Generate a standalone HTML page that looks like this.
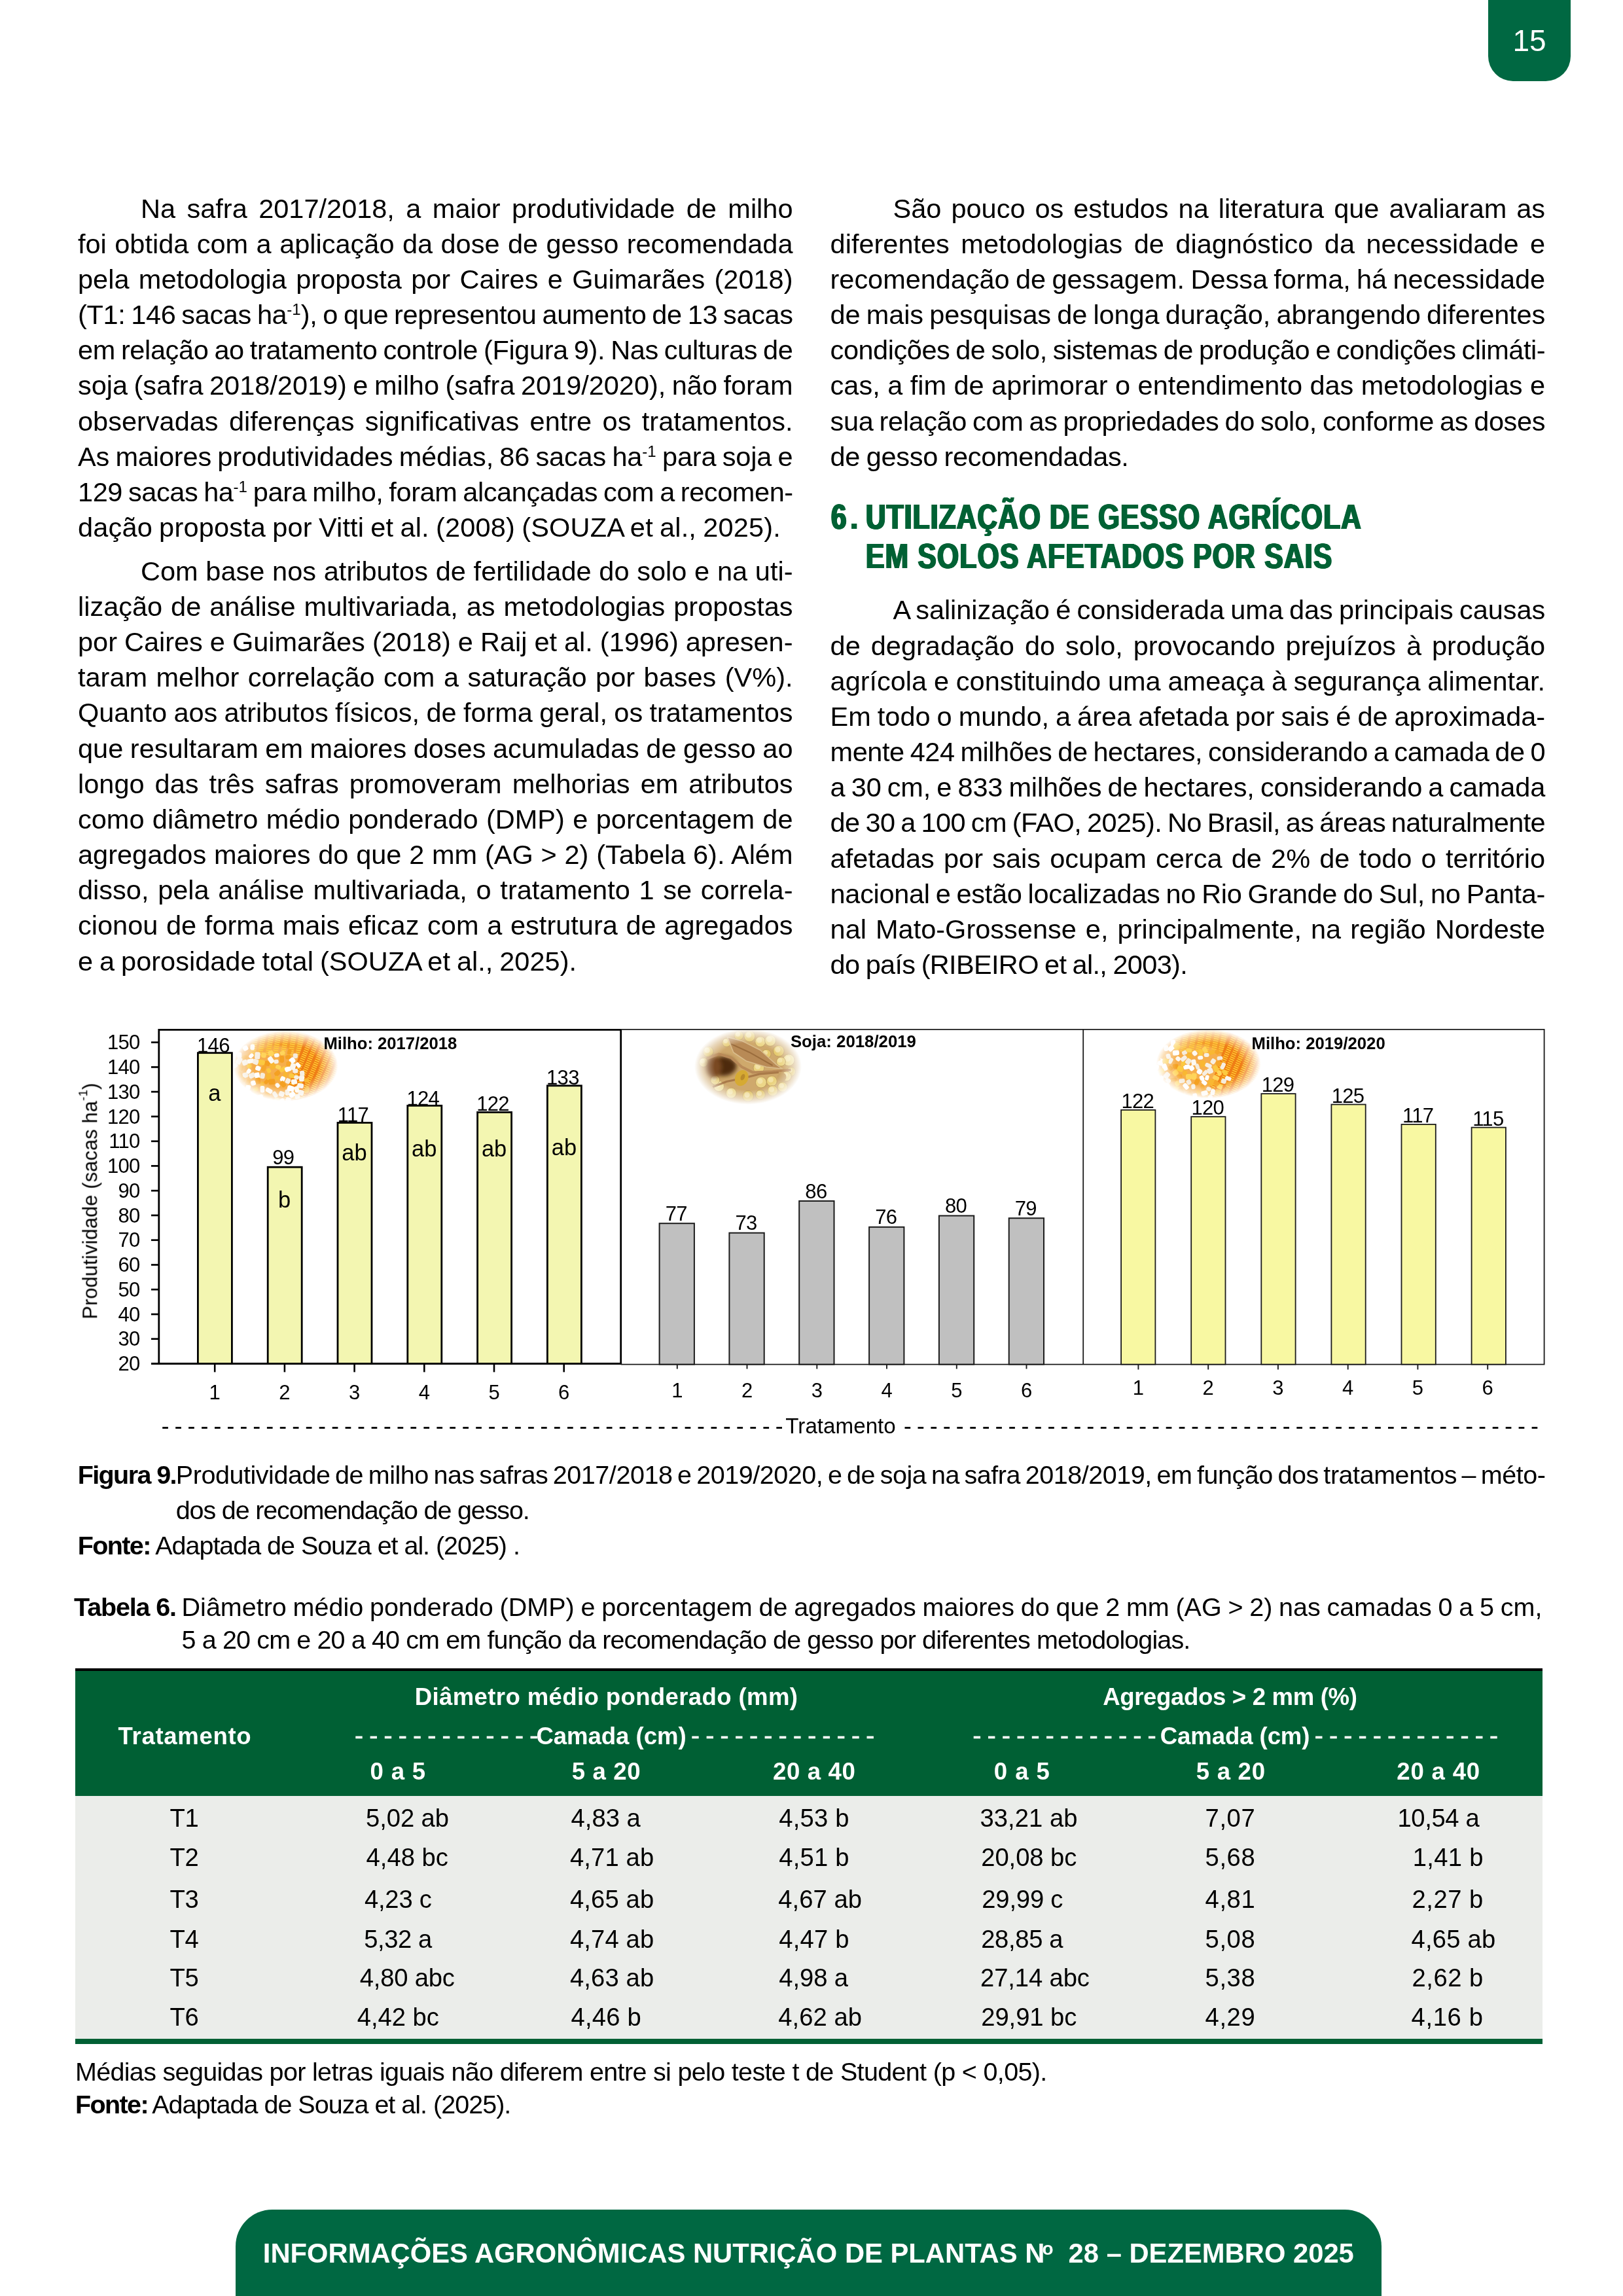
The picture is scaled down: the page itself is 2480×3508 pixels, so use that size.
<!DOCTYPE html>
<html lang="pt-BR"><head><meta charset="utf-8"><title>p15</title>
<style>
html,body{margin:0;padding:0;background:#fff;}
body{width:2480px;height:3508px;position:relative;overflow:hidden;
 font-family:"Liberation Sans",sans-serif;color:#000;}
.ln{position:absolute;white-space:nowrap;margin:0;padding:0;}
.ln.j{text-align:justify;text-align-last:justify;}
.sup{font-size:0.58em;position:relative;top:-0.57em;letter-spacing:0;}
.abs{position:absolute;}
#pg{position:absolute;left:0;top:0;width:2480px;height:3508px;overflow:hidden;will-change:transform;}
</style></head>
<body>
<div id="pg">
<div id="a0" class="ln j b" style="left:215.0px;top:291.64px;font-size:41.5px;line-height:53.95px;width:996.5px;letter-spacing:0px;word-spacing:-2.2px;">Na safra 2017/2018, a maior produtividade de milho</div>
<div id="a1" class="ln j b" style="left:119.0px;top:345.81px;font-size:41.5px;line-height:53.95px;width:1092.5px;letter-spacing:0px;word-spacing:-2.2px;">foi obtida com a aplicação da dose de gesso recomendada</div>
<div id="a2" class="ln j b" style="left:119.0px;top:399.98px;font-size:41.5px;line-height:53.95px;width:1092.5px;letter-spacing:0px;word-spacing:-2.2px;">pela metodologia proposta por Caires e Guimarães (2018)</div>
<div id="a3" class="ln j b" style="left:119.0px;top:454.15px;font-size:41.5px;line-height:53.95px;width:1092.5px;letter-spacing:-0.369px;word-spacing:-2.2px;">(T1: 146 sacas ha<span class="sup">-1</span>), o que representou aumento de 13 sacas</div>
<div id="a4" class="ln j b" style="left:119.0px;top:508.32px;font-size:41.5px;line-height:53.95px;width:1092.5px;letter-spacing:-0.38px;word-spacing:-2.2px;">em relação ao tratamento controle (Figura 9). Nas culturas de</div>
<div id="a5" class="ln j b" style="left:119.0px;top:562.49px;font-size:41.5px;line-height:53.95px;width:1092.5px;letter-spacing:-0.01px;word-spacing:-2.2px;">soja (safra 2018/2019) e milho (safra 2019/2020), não foram</div>
<div id="a6" class="ln j b" style="left:119.0px;top:616.66px;font-size:41.5px;line-height:53.95px;width:1092.5px;letter-spacing:0px;word-spacing:-2.2px;">observadas diferenças significativas entre os tratamentos.</div>
<div id="a7" class="ln j b" style="left:119.0px;top:670.83px;font-size:41.5px;line-height:53.95px;width:1092.5px;letter-spacing:-0.132px;word-spacing:-2.2px;">As maiores produtividades médias, 86 sacas ha<span class="sup">-1</span> para soja e</div>
<div id="a8" class="ln j b" style="left:119.0px;top:725.00px;font-size:41.5px;line-height:53.95px;width:1092.5px;letter-spacing:-0.411px;word-spacing:-2.2px;">129 sacas ha<span class="sup">-1</span> para milho, foram alcançadas com a recomen-</div>
<div id="a9" class="ln b" style="left:119.0px;top:779.17px;font-size:41.5px;line-height:53.95px;letter-spacing:0.186px;word-spacing:-1.6px;">dação proposta por Vitti et al. (2008) (SOUZA et al., 2025).</div>
<div id="b0" class="ln j b" style="left:215.0px;top:845.74px;font-size:41.5px;line-height:53.95px;width:996.5px;letter-spacing:0px;word-spacing:-2.2px;">Com base nos atributos de fertilidade do solo e na uti-</div>
<div id="b1" class="ln j b" style="left:119.0px;top:899.91px;font-size:41.5px;line-height:53.95px;width:1092.5px;letter-spacing:0px;word-spacing:-2.2px;">lização de análise multivariada, as metodologias propostas</div>
<div id="b2" class="ln j b" style="left:119.0px;top:954.08px;font-size:41.5px;line-height:53.95px;width:1092.5px;letter-spacing:-0.01px;word-spacing:-2.2px;">por Caires e Guimarães (2018) e Raij et al. (1996) apresen-</div>
<div id="b3" class="ln j b" style="left:119.0px;top:1008.25px;font-size:41.5px;line-height:53.95px;width:1092.5px;letter-spacing:0px;word-spacing:-2.2px;">taram melhor correlação com a saturação por bases (V%).</div>
<div id="b4" class="ln j b" style="left:119.0px;top:1062.42px;font-size:41.5px;line-height:53.95px;width:1092.5px;letter-spacing:-0.01px;word-spacing:-2.2px;">Quanto aos atributos físicos, de forma geral, os tratamentos</div>
<div id="b5" class="ln j b" style="left:119.0px;top:1116.59px;font-size:41.5px;line-height:53.95px;width:1092.5px;letter-spacing:-0.01px;word-spacing:-2.2px;">que resultaram em maiores doses acumuladas de gesso ao</div>
<div id="b6" class="ln j b" style="left:119.0px;top:1170.76px;font-size:41.5px;line-height:53.95px;width:1092.5px;letter-spacing:0px;word-spacing:-2.2px;">longo das três safras promoveram melhorias em atributos</div>
<div id="b7" class="ln j b" style="left:119.0px;top:1224.93px;font-size:41.5px;line-height:53.95px;width:1092.5px;letter-spacing:0px;word-spacing:-2.2px;">como diâmetro médio ponderado (DMP) e porcentagem de</div>
<div id="b8" class="ln j b" style="left:119.0px;top:1279.10px;font-size:41.5px;line-height:53.95px;width:1092.5px;letter-spacing:0px;word-spacing:-2.2px;">agregados maiores do que 2 mm (AG &gt; 2) (Tabela 6). Além</div>
<div id="b9" class="ln j b" style="left:119.0px;top:1333.27px;font-size:41.5px;line-height:53.95px;width:1092.5px;letter-spacing:0px;word-spacing:-2.2px;">disso, pela análise multivariada, o tratamento 1 se correla-</div>
<div id="b10" class="ln j b" style="left:119.0px;top:1387.44px;font-size:41.5px;line-height:53.95px;width:1092.5px;letter-spacing:0px;word-spacing:-2.2px;">cionou de forma mais eficaz com a estrutura de agregados</div>
<div id="b11" class="ln b" style="left:119.0px;top:1441.61px;font-size:41.5px;line-height:53.95px;letter-spacing:0.01px;word-spacing:-1.6px;">e a porosidade total (SOUZA et al., 2025).</div>
<div id="c0" class="ln j b" style="left:1364.6px;top:291.64px;font-size:41.5px;line-height:53.95px;width:996.5px;letter-spacing:0px;word-spacing:-2.2px;">São pouco os estudos na literatura que avaliaram as</div>
<div id="c1" class="ln j b" style="left:1268.6px;top:345.81px;font-size:41.5px;line-height:53.95px;width:1092.5px;letter-spacing:0px;word-spacing:-2.2px;">diferentes metodologias de diagnóstico da necessidade e</div>
<div id="c2" class="ln j b" style="left:1268.6px;top:399.98px;font-size:41.5px;line-height:53.95px;width:1092.5px;letter-spacing:-0.04px;word-spacing:-2.2px;">recomendação de gessagem. Dessa forma, há necessidade</div>
<div id="c3" class="ln j b" style="left:1268.6px;top:454.15px;font-size:41.5px;line-height:53.95px;width:1092.5px;letter-spacing:-0.124px;word-spacing:-2.2px;">de mais pesquisas de longa duração, abrangendo diferentes</div>
<div id="c4" class="ln j b" style="left:1268.6px;top:508.32px;font-size:41.5px;line-height:53.95px;width:1092.5px;letter-spacing:-0.463px;word-spacing:-2.2px;">condições de solo, sistemas de produção e condições climáti-</div>
<div id="c5" class="ln j b" style="left:1268.6px;top:562.49px;font-size:41.5px;line-height:53.95px;width:1092.5px;letter-spacing:-0.01px;word-spacing:-2.2px;">cas, a fim de aprimorar o entendimento das metodologias e</div>
<div id="c6" class="ln j b" style="left:1268.6px;top:616.66px;font-size:41.5px;line-height:53.95px;width:1092.5px;letter-spacing:-0.361px;word-spacing:-2.2px;">sua relação com as propriedades do solo, conforme as doses</div>
<div id="c7" class="ln b" style="left:1268.6px;top:670.83px;font-size:41.5px;line-height:53.95px;letter-spacing:-0.311px;word-spacing:-1.6px;">de gesso recomendadas.</div>
<div id="d0" class="ln j b" style="left:1364.6px;top:905.44px;font-size:41.5px;line-height:53.95px;width:996.5px;letter-spacing:-0.069px;word-spacing:-2.2px;">A salinização é considerada uma das principais causas</div>
<div id="d1" class="ln j b" style="left:1268.6px;top:959.61px;font-size:41.5px;line-height:53.95px;width:1092.5px;letter-spacing:0px;word-spacing:-2.2px;">de degradação do solo, provocando prejuízos à produção</div>
<div id="d2" class="ln j b" style="left:1268.6px;top:1013.78px;font-size:41.5px;line-height:53.95px;width:1092.5px;letter-spacing:-0.01px;word-spacing:-2.2px;">agrícola e constituindo uma ameaça à segurança alimentar.</div>
<div id="d3" class="ln j b" style="left:1268.6px;top:1067.95px;font-size:41.5px;line-height:53.95px;width:1092.5px;letter-spacing:-0.01px;word-spacing:-2.2px;">Em todo o mundo, a área afetada por sais é de aproximada-</div>
<div id="d4" class="ln j b" style="left:1268.6px;top:1122.12px;font-size:41.5px;line-height:53.95px;width:1092.5px;letter-spacing:-0.45px;word-spacing:-2.2px;">mente 424 milhões de hectares, considerando a camada de 0</div>
<div id="d5" class="ln j b" style="left:1268.6px;top:1176.29px;font-size:41.5px;line-height:53.95px;width:1092.5px;letter-spacing:-0.168px;word-spacing:-2.2px;">a 30 cm, e 833 milhões de hectares, considerando a camada</div>
<div id="d6" class="ln j b" style="left:1268.6px;top:1230.46px;font-size:41.5px;line-height:53.95px;width:1092.5px;letter-spacing:-0.583px;word-spacing:-2.2px;">de 30 a 100 cm (FAO, 2025). No Brasil, as áreas naturalmente</div>
<div id="d7" class="ln j b" style="left:1268.6px;top:1284.63px;font-size:41.5px;line-height:53.95px;width:1092.5px;letter-spacing:0px;word-spacing:-2.2px;">afetadas por sais ocupam cerca de 2% de todo o território</div>
<div id="d8" class="ln j b" style="left:1268.6px;top:1338.80px;font-size:41.5px;line-height:53.95px;width:1092.5px;letter-spacing:-0.314px;word-spacing:-2.2px;">nacional e estão localizadas no Rio Grande do Sul, no Panta-</div>
<div id="d9" class="ln j b" style="left:1268.6px;top:1392.97px;font-size:41.5px;line-height:53.95px;width:1092.5px;letter-spacing:0px;word-spacing:-2.2px;">nal Mato-Grossense e, principalmente, na região Nordeste</div>
<div id="d10" class="ln b" style="left:1268.6px;top:1447.14px;font-size:41.5px;line-height:53.95px;letter-spacing:-0.673px;word-spacing:-1.6px;">do país (RIBEIRO et al., 2003).</div>
<div class="abs" style="left:2274px;top:-40px;width:126px;height:164px;background:#006842;border-radius:0 0 38px 38px;"></div>
<div class="ln" style="left:2274px;width:126px;text-align:center;top:32.05px;font-size:46px;line-height:60px;color:#fff;">15</div>
<div class="ln hd" style="left:1270.4px;top:757.92px;font-size:53px;line-height:64px;font-weight:bold;color:#006134;letter-spacing:1.6px;transform-origin:0 0;text-shadow:0.8px 0 0 currentColor,-0.8px 0 0 currentColor,1.5px 0 0 currentColor,-1.5px 0 0 currentColor;transform:scaleX(0.7956);letter-spacing:7.5px;">6.</div>
<div class="ln hd" style="left:1322.8px;top:757.92px;font-size:53px;line-height:64px;font-weight:bold;color:#006134;letter-spacing:1.6px;transform-origin:0 0;text-shadow:0.8px 0 0 currentColor,-0.8px 0 0 currentColor,1.5px 0 0 currentColor,-1.5px 0 0 currentColor;transform:scaleX(0.7956);">UTILIZAÇÃO DE GESSO AGRÍCOLA</div>
<div class="ln hd" style="left:1322.8px;top:817.72px;font-size:53px;line-height:64px;font-weight:bold;color:#006134;letter-spacing:1.6px;transform-origin:0 0;text-shadow:0.8px 0 0 currentColor,-0.8px 0 0 currentColor,1.5px 0 0 currentColor,-1.5px 0 0 currentColor;transform:scaleX(0.802);">EM SOLOS AFETADOS POR SAIS</div>

<svg class="abs" style="left:0;top:1540px;" width="2480" height="700" viewBox="0 1540 2480 700" font-family="Liberation Sans, sans-serif">
<defs>
<radialGradient id="vg" cx="50%" cy="50%" r="50%"><stop offset="0" stop-color="#fff" stop-opacity="1"/><stop offset="0.62" stop-color="#fff" stop-opacity="1"/><stop offset="0.85" stop-color="#fff" stop-opacity="0.45"/><stop offset="1" stop-color="#fff" stop-opacity="0"/></radialGradient>
<filter id="fb1" x="-10%" y="-10%" width="120%" height="120%"><feGaussianBlur stdDeviation="0.55"/></filter>
<filter id="fb2" x="-10%" y="-10%" width="120%" height="120%"><feGaussianBlur stdDeviation="1.6"/></filter>
<filter id="fb3" x="-30%" y="-30%" width="160%" height="160%"><feGaussianBlur stdDeviation="3.2"/></filter>
<filter id="tb"><feGaussianBlur stdDeviation="0.6"/></filter>
</defs>
<mask id="m1"><ellipse cx="436.5" cy="1628.5" rx="80" ry="54" fill="url(#vg)"/></mask>
<g mask="url(#m1)">
<rect x="356.5" y="1574.5" width="160" height="108" fill="#f3992b"/>
<ellipse cx="412.5" cy="1636.5" rx="53" ry="40" fill="#f7b658" opacity="0.75" filter="url(#fb2)"/>
<g filter="url(#fb1)">
<line x1="392" y1="1576" x2="386" y2="1612" stroke="#ffd23c" stroke-width="7.6" stroke-dasharray="1.4 1.8"/>
<line x1="404" y1="1576" x2="397" y2="1612" stroke="#ffd23c" stroke-width="7.6" stroke-dasharray="1.4 1.8"/>
<line x1="416" y1="1576" x2="409" y2="1612" stroke="#ffd23c" stroke-width="7.6" stroke-dasharray="1.4 1.8"/>
<line x1="427" y1="1576" x2="420" y2="1612" stroke="#ffd23c" stroke-width="7.6" stroke-dasharray="1.4 1.8"/>
<line x1="439" y1="1576" x2="432" y2="1612" stroke="#ffd23c" stroke-width="7.6" stroke-dasharray="1.4 1.8"/>
<line x1="450" y1="1576" x2="444" y2="1612" stroke="#ffd23c" stroke-width="7.6" stroke-dasharray="1.4 1.8"/>
<line x1="462" y1="1576" x2="455" y2="1612" stroke="#ffd23c" stroke-width="7.6" stroke-dasharray="1.4 1.8"/>
<path d="M470.5,1574.5 L516.5,1574.5 L516.5,1682.5 L432.5,1682.5 Z" fill="#ef7d14"/>
<line x1="480" y1="1576" x2="436" y2="1682" stroke="#ffd136" stroke-width="7.2" stroke-dasharray="1.4 1.8"/>
<line x1="491" y1="1576" x2="447" y2="1682" stroke="#ffd136" stroke-width="7.2" stroke-dasharray="1.4 1.8"/>
<line x1="503" y1="1576" x2="459" y2="1682" stroke="#ffd136" stroke-width="7.2" stroke-dasharray="1.4 1.8"/>
<line x1="515" y1="1576" x2="471" y2="1682" stroke="#ffd136" stroke-width="7.2" stroke-dasharray="1.4 1.8"/>
<line x1="526" y1="1576" x2="482" y2="1682" stroke="#ffd136" stroke-width="7.2" stroke-dasharray="1.4 1.8"/>
<line x1="538" y1="1576" x2="494" y2="1682" stroke="#ffd136" stroke-width="7.2" stroke-dasharray="1.4 1.8"/>
</g>
<g filter="url(#fb1)">
<rect x="402.9" y="1649.5" width="9.0" height="5.7" rx="2.4" fill="#f4a020" transform="rotate(135 407.4 1652.4)"/>
<rect x="404.2" y="1621.1" width="8.5" height="7.5" rx="2.4" fill="#f4a020" transform="rotate(20 408.5 1624.9)"/>
<rect x="377.2" y="1625.7" width="7.1" height="6.4" rx="2.4" fill="#fcc93f" transform="rotate(155 380.8 1628.9)"/>
<rect x="456.3" y="1643.8" width="9.5" height="8.1" rx="2.4" fill="#fbf6ee" transform="rotate(90 461.1 1647.8)"/>
<rect x="431.4" y="1638.6" width="9.2" height="6.2" rx="2.4" fill="#f9b732" transform="rotate(100 435.9 1641.7)"/>
<rect x="362.2" y="1651.5" width="9.1" height="8.4" rx="2.4" fill="#f4a020" transform="rotate(50 366.7 1655.7)"/>
<rect x="436.0" y="1647.9" width="8.0" height="7.4" rx="2.4" fill="#f7efe2" transform="rotate(115 440.0 1651.6)"/>
<rect x="371.4" y="1597.6" width="7.4" height="7.8" rx="2.4" fill="#ffffff" transform="rotate(65 375.1 1601.5)"/>
<rect x="377.4" y="1617.9" width="10.8" height="6.6" rx="2.4" fill="#fdf9f2" transform="rotate(170 382.8 1621.2)"/>
<rect x="426.8" y="1630.8" width="10.6" height="6.3" rx="2.4" fill="#fcc93f" transform="rotate(145 432.2 1633.9)"/>
<rect x="436.1" y="1612.0" width="8.1" height="6.4" rx="2.4" fill="#f4a020" transform="rotate(175 440.2 1615.2)"/>
<rect x="428.0" y="1645.1" width="8.0" height="7.1" rx="2.4" fill="#ffffff" transform="rotate(115 432.0 1648.6)"/>
<rect x="393.1" y="1672.5" width="9.3" height="8.0" rx="2.4" fill="#fbf6ee" transform="rotate(165 397.7 1676.5)"/>
<rect x="434.6" y="1665.6" width="8.9" height="7.1" rx="2.4" fill="#f7efe2" transform="rotate(90 439.1 1669.1)"/>
<rect x="387.9" y="1608.7" width="11.0" height="8.2" rx="2.4" fill="#f7efe2" transform="rotate(95 393.4 1612.8)"/>
<rect x="398.1" y="1628.6" width="10.1" height="6.5" rx="2.4" fill="#f6a62a" transform="rotate(110 403.2 1631.9)"/>
<rect x="441.4" y="1640.3" width="8.2" height="6.5" rx="2.4" fill="#fcc93f" transform="rotate(15 445.5 1643.6)"/>
<rect x="380.2" y="1639.4" width="9.6" height="7.7" rx="2.4" fill="#f5ecdc" transform="rotate(155 385.0 1643.2)"/>
<rect x="415.4" y="1669.2" width="9.8" height="6.2" rx="2.4" fill="#f5ecdc" transform="rotate(55 420.3 1672.3)"/>
<rect x="355.5" y="1625.1" width="7.8" height="6.5" rx="2.4" fill="#f5ecdc" transform="rotate(145 359.4 1628.3)"/>
<rect x="409.6" y="1605.7" width="9.0" height="7.9" rx="2.4" fill="#ffd45a" transform="rotate(65 414.1 1609.6)"/>
<rect x="435.3" y="1629.8" width="10.1" height="7.3" rx="2.4" fill="#ffffff" transform="rotate(160 440.3 1633.4)"/>
<rect x="438.9" y="1659.0" width="10.9" height="8.4" rx="2.4" fill="#ffffff" transform="rotate(15 444.4 1663.2)"/>
<rect x="362.0" y="1639.1" width="10.1" height="5.6" rx="2.4" fill="#f4a020" transform="rotate(70 367.0 1641.9)"/>
<rect x="464.5" y="1647.4" width="7.5" height="6.4" rx="2.4" fill="#f9b732" transform="rotate(165 468.3 1650.6)"/>
<rect x="375.2" y="1657.9" width="7.7" height="7.4" rx="2.4" fill="#ffffff" transform="rotate(105 379.1 1661.6)"/>
<rect x="457.3" y="1636.5" width="8.6" height="7.2" rx="2.4" fill="#f7efe2" transform="rotate(85 461.6 1640.2)"/>
<rect x="405.7" y="1663.0" width="10.9" height="6.7" rx="2.4" fill="#fdf9f2" transform="rotate(30 411.2 1666.3)"/>
<rect x="375.3" y="1667.9" width="10.4" height="6.0" rx="2.4" fill="#fbf6ee" transform="rotate(105 380.5 1670.9)"/>
<rect x="427.4" y="1652.9" width="9.8" height="7.0" rx="2.4" fill="#f4a020" transform="rotate(50 432.3 1656.4)"/>
<rect x="386.4" y="1618.1" width="8.7" height="8.4" rx="2.4" fill="#f7efe2" transform="rotate(20 390.7 1622.3)"/>
<rect x="364.6" y="1628.5" width="7.8" height="6.5" rx="2.4" fill="#f6a62a" transform="rotate(105 368.4 1631.8)"/>
<rect x="383.3" y="1650.9" width="7.4" height="7.5" rx="2.4" fill="#ffffff" transform="rotate(165 387.0 1654.7)"/>
<rect x="454.2" y="1655.2" width="9.7" height="7.4" rx="2.4" fill="#fbf6ee" transform="rotate(10 459.1 1658.9)"/>
<rect x="405.7" y="1641.0" width="9.9" height="7.7" rx="2.4" fill="#f9b732" transform="rotate(80 410.6 1644.9)"/>
<rect x="445.0" y="1649.1" width="9.0" height="7.6" rx="2.4" fill="#fdf9f2" transform="rotate(170 449.5 1652.9)"/>
<rect x="395.1" y="1619.3" width="9.6" height="7.9" rx="2.4" fill="#fcc93f" transform="rotate(10 399.9 1623.2)"/>
<rect x="371.1" y="1638.6" width="7.8" height="8.2" rx="2.4" fill="#f5ecdc" transform="rotate(75 375.0 1642.7)"/>
<rect x="396.6" y="1653.5" width="7.5" height="5.9" rx="2.4" fill="#f9b732" transform="rotate(105 400.4 1656.4)"/>
<rect x="425.3" y="1615.0" width="10.8" height="6.7" rx="2.4" fill="#f4a020" transform="rotate(90 430.7 1618.3)"/>
<rect x="390.4" y="1628.7" width="7.9" height="7.1" rx="2.4" fill="#ffffff" transform="rotate(20 394.4 1632.2)"/>
<rect x="441.8" y="1668.6" width="9.4" height="7.9" rx="2.4" fill="#ffffff" transform="rotate(145 446.5 1672.5)"/>
<rect x="451.2" y="1624.5" width="8.8" height="5.6" rx="2.4" fill="#ffffff" transform="rotate(50 455.6 1627.3)"/>
<rect x="420.6" y="1655.2" width="7.1" height="6.1" rx="2.4" fill="#fdf9f2" transform="rotate(45 424.1 1658.2)"/>
<rect x="438.1" y="1604.2" width="8.6" height="5.9" rx="2.4" fill="#f4a020" transform="rotate(105 442.3 1607.1)"/>
<rect x="381.3" y="1596.5" width="8.8" height="6.7" rx="2.4" fill="#fdf9f2" transform="rotate(95 385.7 1599.9)"/>
<rect x="384.7" y="1670.2" width="10.9" height="6.1" rx="2.4" fill="#f9b732" transform="rotate(65 390.1 1673.3)"/>
<rect x="386.4" y="1661.6" width="8.3" height="6.0" rx="2.4" fill="#fcc93f" transform="rotate(155 390.5 1664.6)"/>
<rect x="419.1" y="1636.2" width="9.3" height="7.0" rx="2.4" fill="#f4a020" transform="rotate(140 423.7 1639.8)"/>
<rect x="455.9" y="1665.3" width="8.2" height="8.3" rx="2.4" fill="#f7efe2" transform="rotate(105 460.0 1669.5)"/>
<rect x="361.2" y="1608.9" width="9.2" height="7.0" rx="2.4" fill="#fbf6ee" transform="rotate(90 365.8 1612.4)"/>
<rect x="388.5" y="1639.3" width="9.0" height="7.7" rx="2.4" fill="#ffffff" transform="rotate(80 393.0 1643.1)"/>
<rect x="359.7" y="1616.8" width="11.0" height="7.9" rx="2.4" fill="#f5ecdc" transform="rotate(120 365.2 1620.8)"/>
<rect x="379.9" y="1610.2" width="8.0" height="5.7" rx="2.4" fill="#ffffff" transform="rotate(135 383.9 1613.1)"/>
<rect x="351.9" y="1638.4" width="10.2" height="7.1" rx="2.4" fill="#f9b732" transform="rotate(165 357.0 1642.0)"/>
<rect x="426.1" y="1678.7" width="8.6" height="6.7" rx="2.4" fill="#fdf9f2" transform="rotate(155 430.4 1682.1)"/>
<rect x="412.3" y="1624.6" width="9.2" height="8.4" rx="2.4" fill="#f9b732" transform="rotate(55 416.9 1628.8)"/>
<rect x="410.6" y="1648.6" width="10.0" height="8.5" rx="2.4" fill="#f4a020" transform="rotate(175 415.5 1652.8)"/>
<rect x="408.5" y="1679.2" width="9.6" height="7.6" rx="2.4" fill="#ffd45a" transform="rotate(70 413.3 1683.0)"/>
<rect x="447.4" y="1632.8" width="7.9" height="7.0" rx="2.4" fill="#f7efe2" transform="rotate(0 451.4 1636.3)"/>
<rect x="399.1" y="1608.0" width="7.7" height="8.1" rx="2.4" fill="#ffd45a" transform="rotate(5 403.0 1612.1)"/>
<rect x="426.4" y="1667.3" width="8.0" height="8.4" rx="2.4" fill="#f7efe2" transform="rotate(110 430.4 1671.4)"/>
<rect x="442.3" y="1616.1" width="8.6" height="8.4" rx="2.4" fill="#ffffff" transform="rotate(145 446.6 1620.3)"/>
<rect x="400.8" y="1678.5" width="7.9" height="5.6" rx="2.4" fill="#fbf6ee" transform="rotate(15 404.8 1681.3)"/>
<rect x="374.6" y="1650.4" width="8.4" height="6.4" rx="2.4" fill="#f6a62a" transform="rotate(120 378.8 1653.6)"/>
<rect x="421.1" y="1627.2" width="8.0" height="6.3" rx="2.4" fill="#ffd45a" transform="rotate(20 425.1 1630.4)"/>
<rect x="365.8" y="1661.2" width="9.7" height="7.5" rx="2.4" fill="#f4a020" transform="rotate(100 370.7 1665.0)"/>
<rect x="447.8" y="1609.4" width="7.1" height="7.5" rx="2.4" fill="#f5ecdc" transform="rotate(0 451.4 1613.1)"/>
<rect x="389.4" y="1647.6" width="9.8" height="7.6" rx="2.4" fill="#f4a020" transform="rotate(80 394.2 1651.4)"/>
<rect x="418.5" y="1619.0" width="7.2" height="6.3" rx="2.4" fill="#f7efe2" transform="rotate(175 422.1 1622.1)"/>
<rect x="436.4" y="1676.6" width="8.1" height="8.1" rx="2.4" fill="#f7efe2" transform="rotate(105 440.5 1680.7)"/>
<rect x="437.3" y="1621.5" width="7.4" height="8.1" rx="2.4" fill="#f6a62a" transform="rotate(5 441.0 1625.6)"/>
<rect x="464.6" y="1661.5" width="8.8" height="7.2" rx="2.4" fill="#f9b732" transform="rotate(105 469.0 1665.1)"/>
<rect x="370.2" y="1612.2" width="7.1" height="5.8" rx="2.4" fill="#f6a62a" transform="rotate(175 373.8 1615.2)"/>
<rect x="417.8" y="1677.6" width="9.7" height="8.2" rx="2.4" fill="#ffd45a" transform="rotate(125 422.6 1681.7)"/>
<rect x="395.7" y="1660.9" width="10.6" height="6.7" rx="2.4" fill="#fbf6ee" transform="rotate(90 401.0 1664.2)"/>
<rect x="396.7" y="1640.0" width="8.8" height="7.2" rx="2.4" fill="#f5ecdc" transform="rotate(100 401.1 1643.6)"/>
<rect x="418.9" y="1609.3" width="7.7" height="6.0" rx="2.4" fill="#fdf9f2" transform="rotate(175 422.8 1612.3)"/>
<rect x="427.8" y="1605.9" width="7.6" height="6.1" rx="2.4" fill="#ffd45a" transform="rotate(155 431.6 1608.9)"/>
<rect x="419.6" y="1644.2" width="7.5" height="6.4" rx="2.4" fill="#f9b732" transform="rotate(30 423.3 1647.4)"/>
<rect x="406.8" y="1632.7" width="7.5" height="6.1" rx="2.4" fill="#fcc93f" transform="rotate(60 410.6 1635.8)"/>
<rect x="367.5" y="1646.5" width="7.9" height="6.2" rx="2.4" fill="#f6a62a" transform="rotate(75 371.5 1649.6)"/>
<rect x="354.9" y="1648.1" width="9.0" height="8.3" rx="2.4" fill="#fcc93f" transform="rotate(60 359.4 1652.2)"/>
<rect x="402.9" y="1670.0" width="9.7" height="8.4" rx="2.4" fill="#f4a020" transform="rotate(125 407.7 1674.2)"/>
<rect x="449.2" y="1643.0" width="7.7" height="5.9" rx="2.4" fill="#f7efe2" transform="rotate(20 453.0 1646.0)"/>
<rect x="408.8" y="1615.7" width="10.5" height="7.4" rx="2.4" fill="#fdf9f2" transform="rotate(55 414.0 1619.4)"/>
<rect x="370.0" y="1619.5" width="8.3" height="8.2" rx="2.4" fill="#f7efe2" transform="rotate(70 374.2 1623.6)"/>
<rect x="442.6" y="1625.4" width="10.0" height="8.4" rx="2.4" fill="#fbf6ee" transform="rotate(110 447.6 1629.6)"/>
<rect x="448.6" y="1661.0" width="9.8" height="6.9" rx="2.4" fill="#fdf9f2" transform="rotate(70 453.5 1664.4)"/>
<rect x="450.3" y="1671.7" width="8.0" height="7.0" rx="2.4" fill="#f5ecdc" transform="rotate(165 454.3 1675.2)"/>
<rect x="376.2" y="1633.6" width="7.7" height="6.1" rx="2.4" fill="#ffffff" transform="rotate(125 380.1 1636.7)"/>
</g>
</g>
<mask id="m2"><ellipse cx="1143" cy="1629.6" rx="82" ry="58" fill="url(#vg)"/></mask>
<g mask="url(#m2)">
<rect x="1061" y="1571.6" width="164" height="116" fill="#cfa96c"/>
<g filter="url(#fb1)">
<circle cx="1145.4" cy="1583.4" r="8.4" fill="#e6ca70" stroke="#b8965a" stroke-width="0.8"/>
<circle cx="1143.9" cy="1581.4" r="4.2" fill="#f8edc0" opacity="0.6"/>
<circle cx="1161.8" cy="1591.6" r="8.0" fill="#ecd688" stroke="#b8965a" stroke-width="0.8"/>
<circle cx="1160.3" cy="1589.6" r="4.0" fill="#f8edc0" opacity="0.6"/>
<circle cx="1177.0" cy="1590.0" r="8.4" fill="#ecd688" stroke="#b8965a" stroke-width="0.8"/>
<circle cx="1175.5" cy="1588.0" r="4.2" fill="#f8edc0" opacity="0.6"/>
<circle cx="1189.8" cy="1605.7" r="8.4" fill="#e6ca70" stroke="#b8965a" stroke-width="0.8"/>
<circle cx="1188.3" cy="1603.7" r="4.2" fill="#f8edc0" opacity="0.6"/>
<circle cx="1205.1" cy="1619.7" r="8.9" fill="#eedb92" stroke="#b8965a" stroke-width="0.8"/>
<circle cx="1203.6" cy="1617.7" r="4.4" fill="#f8edc0" opacity="0.6"/>
<circle cx="1193.4" cy="1622.0" r="7.0" fill="#ecd688" stroke="#b8965a" stroke-width="0.8"/>
<circle cx="1191.9" cy="1620.0" r="3.5" fill="#f8edc0" opacity="0.6"/>
<circle cx="1208.6" cy="1637.3" r="7.0" fill="#e1c264" stroke="#b8965a" stroke-width="0.8"/>
<circle cx="1207.1" cy="1635.3" r="3.5" fill="#f8edc0" opacity="0.6"/>
<circle cx="1201.6" cy="1644.3" r="7.5" fill="#ecd688" stroke="#b8965a" stroke-width="0.8"/>
<circle cx="1200.1" cy="1642.3" r="3.7" fill="#f8edc0" opacity="0.6"/>
<circle cx="1159.4" cy="1631.4" r="8.4" fill="#ead27e" stroke="#b8965a" stroke-width="0.8"/>
<circle cx="1157.9" cy="1629.4" r="4.2" fill="#f8edc0" opacity="0.6"/>
<circle cx="1162.9" cy="1653.7" r="8.4" fill="#ecd688" stroke="#b8965a" stroke-width="0.8"/>
<circle cx="1161.4" cy="1651.7" r="4.2" fill="#f8edc0" opacity="0.6"/>
<circle cx="1179.3" cy="1651.8" r="8.0" fill="#ead27e" stroke="#b8965a" stroke-width="0.8"/>
<circle cx="1177.8" cy="1649.8" r="4.0" fill="#f8edc0" opacity="0.6"/>
<circle cx="1143.0" cy="1674.7" r="8.4" fill="#e1c264" stroke="#b8965a" stroke-width="0.8"/>
<circle cx="1141.5" cy="1672.7" r="4.2" fill="#f8edc0" opacity="0.6"/>
<circle cx="1098.5" cy="1659.5" r="8.0" fill="#eedb92" stroke="#b8965a" stroke-width="0.8"/>
<circle cx="1097.0" cy="1657.5" r="4.0" fill="#f8edc0" opacity="0.6"/>
<circle cx="1092.7" cy="1650.1" r="7.0" fill="#ecd688" stroke="#b8965a" stroke-width="0.8"/>
<circle cx="1091.2" cy="1648.1" r="3.5" fill="#f8edc0" opacity="0.6"/>
<circle cx="1180.5" cy="1666.5" r="8.0" fill="#e6ca70" stroke="#b8965a" stroke-width="0.8"/>
<circle cx="1179.0" cy="1664.5" r="4.0" fill="#f8edc0" opacity="0.6"/>
<circle cx="1195.7" cy="1660.7" r="7.5" fill="#e6ca70" stroke="#b8965a" stroke-width="0.8"/>
<circle cx="1194.2" cy="1658.7" r="3.7" fill="#f8edc0" opacity="0.6"/>
<circle cx="1082.1" cy="1606.8" r="8.0" fill="#e1c264" stroke="#b8965a" stroke-width="0.8"/>
<circle cx="1080.6" cy="1604.8" r="4.0" fill="#f8edc0" opacity="0.6"/>
<circle cx="1075.1" cy="1623.2" r="7.0" fill="#ecd688" stroke="#b8965a" stroke-width="0.8"/>
<circle cx="1073.6" cy="1621.2" r="3.5" fill="#f8edc0" opacity="0.6"/>
<circle cx="1117.3" cy="1670.0" r="8.0" fill="#ecd688" stroke="#b8965a" stroke-width="0.8"/>
<circle cx="1115.8" cy="1668.0" r="4.0" fill="#f8edc0" opacity="0.6"/>
<circle cx="1161.8" cy="1672.4" r="7.5" fill="#e1c264" stroke="#b8965a" stroke-width="0.8"/>
<circle cx="1160.3" cy="1670.4" r="3.7" fill="#f8edc0" opacity="0.6"/>
<circle cx="1129.0" cy="1582.2" r="7.0" fill="#e1c264" stroke="#b8965a" stroke-width="0.8"/>
<circle cx="1127.5" cy="1580.2" r="3.5" fill="#f8edc0" opacity="0.6"/>
<circle cx="1110.2" cy="1592.8" r="6.6" fill="#e6ca70" stroke="#b8965a" stroke-width="0.8"/>
<circle cx="1108.7" cy="1590.8" r="3.3" fill="#f8edc0" opacity="0.6"/>
<circle cx="1171.1" cy="1610.3" r="7.0" fill="#e6ca70" stroke="#b8965a" stroke-width="0.8"/>
<circle cx="1169.6" cy="1608.3" r="3.5" fill="#f8edc0" opacity="0.6"/>
</g>
<g filter="url(#fb3)">
<ellipse cx="1104.4" cy="1629.1" rx="21" ry="15" fill="#4e2a10"/>
<ellipse cx="1090.3" cy="1630.2" rx="12" ry="17" fill="#7a4a20"/>
</g>
<g filter="url(#fb1)">
<path d="M1111.4,1584.6 L1133.7,1590.4 L1161.8,1604.5 L1186.3,1626.7 L1195.7,1633.1 L1171.1,1630.2 L1140.7,1621.3 L1120.8,1608.0Z" fill="#b88a56" stroke="#d9bc8c" stroke-width="1.6" stroke-linejoin="round"/>
<path d="M1117.3,1595.1 L1145.4,1608.0 L1180.5,1627.9" fill="none" stroke="#9a6c3c" stroke-width="2"/>
<path d="M1079.8,1617.4 L1098.5,1610.3 L1117.3,1616.2 L1133.7,1630.2 L1150.0,1638.4 L1180.5,1637.3 L1208.6,1634.5" fill="none" stroke="#b98a58" stroke-width="4" stroke-linejoin="round"/>
<path d="M1089.2,1660.7 L1110.2,1652.5 L1138.3,1646.6 L1161.8,1640.8 L1189.8,1638.4" fill="none" stroke="#a97a48" stroke-width="3.2" stroke-linejoin="round"/>
<ellipse cx="1133.2" cy="1647.1" rx="10" ry="12.5" fill="#d6aa32" transform="rotate(25 1133.2 1647.1)"/>
<ellipse cx="1134.2" cy="1645.1" rx="3" ry="5" fill="#b98a2a" transform="rotate(25 1133.2 1647.1)"/>
<circle cx="1194.5" cy="1645.5" r="7" fill="#c9a468"/>
</g>
</g>
<mask id="m3"><ellipse cx="1846.7" cy="1625.4" rx="80" ry="53" fill="url(#vg)"/></mask>
<g mask="url(#m3)">
<rect x="1766.7" y="1572.4" width="160" height="106" fill="#f3992b"/>
<ellipse cx="1822.7" cy="1633.4" rx="53" ry="39" fill="#f7b658" opacity="0.75" filter="url(#fb2)"/>
<g filter="url(#fb1)">
<line x1="1803" y1="1574" x2="1796" y2="1608" stroke="#ffd23c" stroke-width="7.6" stroke-dasharray="1.4 1.8"/>
<line x1="1814" y1="1574" x2="1807" y2="1608" stroke="#ffd23c" stroke-width="7.6" stroke-dasharray="1.4 1.8"/>
<line x1="1826" y1="1574" x2="1819" y2="1608" stroke="#ffd23c" stroke-width="7.6" stroke-dasharray="1.4 1.8"/>
<line x1="1838" y1="1574" x2="1830" y2="1608" stroke="#ffd23c" stroke-width="7.6" stroke-dasharray="1.4 1.8"/>
<line x1="1849" y1="1574" x2="1842" y2="1608" stroke="#ffd23c" stroke-width="7.6" stroke-dasharray="1.4 1.8"/>
<line x1="1861" y1="1574" x2="1854" y2="1608" stroke="#ffd23c" stroke-width="7.6" stroke-dasharray="1.4 1.8"/>
<line x1="1872" y1="1574" x2="1865" y2="1608" stroke="#ffd23c" stroke-width="7.6" stroke-dasharray="1.4 1.8"/>
<path d="M1880.7,1572.4 L1926.7,1572.4 L1926.7,1678.4 L1842.7,1678.4 Z" fill="#ef7d14"/>
<line x1="1890" y1="1574" x2="1846" y2="1678" stroke="#ffd136" stroke-width="7.2" stroke-dasharray="1.4 1.8"/>
<line x1="1901" y1="1574" x2="1857" y2="1678" stroke="#ffd136" stroke-width="7.2" stroke-dasharray="1.4 1.8"/>
<line x1="1913" y1="1574" x2="1869" y2="1678" stroke="#ffd136" stroke-width="7.2" stroke-dasharray="1.4 1.8"/>
<line x1="1925" y1="1574" x2="1881" y2="1678" stroke="#ffd136" stroke-width="7.2" stroke-dasharray="1.4 1.8"/>
<line x1="1936" y1="1574" x2="1892" y2="1678" stroke="#ffd136" stroke-width="7.2" stroke-dasharray="1.4 1.8"/>
<line x1="1948" y1="1574" x2="1904" y2="1678" stroke="#ffd136" stroke-width="7.2" stroke-dasharray="1.4 1.8"/>
</g>
<g filter="url(#fb1)">
<rect x="1778.0" y="1638.9" width="10.0" height="7.9" rx="2.4" fill="#f7efe2" transform="rotate(130 1782.9 1642.9)"/>
<rect x="1774.3" y="1626.9" width="10.8" height="7.4" rx="2.4" fill="#ffffff" transform="rotate(70 1779.7 1630.6)"/>
<rect x="1843.4" y="1660.7" width="7.2" height="6.1" rx="2.4" fill="#f5ecdc" transform="rotate(25 1847.0 1663.7)"/>
<rect x="1784.4" y="1597.8" width="10.5" height="7.4" rx="2.4" fill="#ffffff" transform="rotate(135 1789.7 1601.5)"/>
<rect x="1853.1" y="1643.6" width="9.8" height="6.8" rx="2.4" fill="#ffd45a" transform="rotate(25 1858.0 1647.0)"/>
<rect x="1872.9" y="1652.5" width="8.5" height="6.1" rx="2.4" fill="#f4a020" transform="rotate(175 1877.2 1655.6)"/>
<rect x="1819.6" y="1619.6" width="9.2" height="7.3" rx="2.4" fill="#fdf9f2" transform="rotate(80 1824.1 1623.2)"/>
<rect x="1829.1" y="1633.4" width="7.8" height="7.9" rx="2.4" fill="#ffffff" transform="rotate(120 1833.0 1637.3)"/>
<rect x="1808.2" y="1627.0" width="10.3" height="6.8" rx="2.4" fill="#ffffff" transform="rotate(170 1813.3 1630.3)"/>
<rect x="1835.9" y="1651.0" width="8.6" height="6.4" rx="2.4" fill="#ffffff" transform="rotate(40 1840.3 1654.2)"/>
<rect x="1866.9" y="1635.4" width="9.3" height="6.1" rx="2.4" fill="#fcc93f" transform="rotate(40 1871.5 1638.5)"/>
<rect x="1768.9" y="1645.1" width="10.2" height="6.6" rx="2.4" fill="#fdf9f2" transform="rotate(115 1774.0 1648.4)"/>
<rect x="1792.2" y="1634.9" width="8.0" height="8.4" rx="2.4" fill="#ffd45a" transform="rotate(55 1796.2 1639.1)"/>
<rect x="1812.6" y="1649.8" width="7.7" height="7.1" rx="2.4" fill="#f5ecdc" transform="rotate(60 1816.5 1653.4)"/>
<rect x="1819.5" y="1640.8" width="10.1" height="7.8" rx="2.4" fill="#ffd45a" transform="rotate(95 1824.6 1644.7)"/>
<rect x="1846.1" y="1604.7" width="10.5" height="6.7" rx="2.4" fill="#f9b732" transform="rotate(165 1851.4 1608.0)"/>
<rect x="1852.9" y="1628.8" width="10.3" height="7.3" rx="2.4" fill="#fcc93f" transform="rotate(65 1858.0 1632.5)"/>
<rect x="1863.4" y="1625.6" width="10.6" height="6.2" rx="2.4" fill="#f7efe2" transform="rotate(115 1868.7 1628.7)"/>
<rect x="1829.5" y="1604.6" width="10.2" height="6.8" rx="2.4" fill="#fcc93f" transform="rotate(90 1834.6 1608.0)"/>
<rect x="1836.4" y="1636.3" width="9.7" height="6.0" rx="2.4" fill="#f7efe2" transform="rotate(135 1841.3 1639.3)"/>
<rect x="1784.1" y="1617.8" width="9.4" height="5.9" rx="2.4" fill="#f7efe2" transform="rotate(120 1788.8 1620.8)"/>
<rect x="1859.4" y="1657.2" width="8.5" height="6.5" rx="2.4" fill="#ffd45a" transform="rotate(25 1863.6 1660.5)"/>
<rect x="1804.6" y="1670.6" width="8.1" height="8.3" rx="2.4" fill="#fcc93f" transform="rotate(60 1808.6 1674.7)"/>
<rect x="1866.0" y="1648.3" width="7.9" height="7.2" rx="2.4" fill="#f5ecdc" transform="rotate(15 1869.9 1651.9)"/>
<rect x="1827.2" y="1666.5" width="7.3" height="5.8" rx="2.4" fill="#f9b732" transform="rotate(60 1830.9 1669.4)"/>
<rect x="1795.2" y="1652.0" width="7.3" height="7.1" rx="2.4" fill="#ffd45a" transform="rotate(50 1798.9 1655.6)"/>
<rect x="1771.8" y="1608.3" width="7.6" height="8.2" rx="2.4" fill="#f4a020" transform="rotate(15 1775.5 1612.3)"/>
<rect x="1823.7" y="1649.8" width="10.2" height="6.8" rx="2.4" fill="#f4a020" transform="rotate(115 1828.8 1653.2)"/>
<rect x="1845.3" y="1673.0" width="7.9" height="6.5" rx="2.4" fill="#f5ecdc" transform="rotate(135 1849.2 1676.3)"/>
<rect x="1806.8" y="1636.1" width="7.4" height="7.1" rx="2.4" fill="#f9b732" transform="rotate(100 1810.5 1639.7)"/>
<rect x="1821.0" y="1672.3" width="10.3" height="6.8" rx="2.4" fill="#fdf9f2" transform="rotate(80 1826.2 1675.7)"/>
<rect x="1796.5" y="1614.4" width="7.4" height="6.6" rx="2.4" fill="#fdf9f2" transform="rotate(40 1800.2 1617.7)"/>
<rect x="1848.6" y="1665.1" width="9.3" height="6.8" rx="2.4" fill="#fbf6ee" transform="rotate(100 1853.2 1668.5)"/>
<rect x="1849.8" y="1618.1" width="8.0" height="7.3" rx="2.4" fill="#f7efe2" transform="rotate(125 1853.8 1621.7)"/>
<rect x="1803.4" y="1621.7" width="8.8" height="6.2" rx="2.4" fill="#fcc93f" transform="rotate(100 1807.8 1624.8)"/>
<rect x="1784.7" y="1663.4" width="9.7" height="6.7" rx="2.4" fill="#fdf9f2" transform="rotate(35 1789.6 1666.7)"/>
<rect x="1769.4" y="1633.4" width="10.0" height="7.1" rx="2.4" fill="#fcc93f" transform="rotate(150 1774.3 1636.9)"/>
<rect x="1792.3" y="1659.8" width="9.4" height="8.4" rx="2.4" fill="#fcc93f" transform="rotate(155 1797.1 1664.1)"/>
<rect x="1781.3" y="1610.5" width="8.1" height="6.8" rx="2.4" fill="#f7efe2" transform="rotate(75 1785.3 1613.9)"/>
<rect x="1799.4" y="1663.2" width="10.1" height="7.4" rx="2.4" fill="#f4a020" transform="rotate(60 1804.4 1666.9)"/>
<rect x="1833.0" y="1659.3" width="9.8" height="6.0" rx="2.4" fill="#f6a62a" transform="rotate(70 1837.9 1662.3)"/>
<rect x="1792.1" y="1604.6" width="10.0" height="7.9" rx="2.4" fill="#ffffff" transform="rotate(175 1797.0 1608.6)"/>
<rect x="1832.7" y="1621.4" width="10.1" height="8.0" rx="2.4" fill="#f9b732" transform="rotate(80 1837.8 1625.4)"/>
<rect x="1839.7" y="1609.1" width="7.9" height="5.9" rx="2.4" fill="#f7efe2" transform="rotate(0 1843.7 1612.0)"/>
<rect x="1813.0" y="1609.3" width="8.6" height="7.2" rx="2.4" fill="#f9b732" transform="rotate(80 1817.3 1612.9)"/>
<rect x="1819.5" y="1657.1" width="7.8" height="6.2" rx="2.4" fill="#f7efe2" transform="rotate(85 1823.4 1660.2)"/>
<rect x="1779.2" y="1655.2" width="9.7" height="7.0" rx="2.4" fill="#fbf6ee" transform="rotate(65 1784.0 1658.7)"/>
<rect x="1768.1" y="1618.4" width="10.4" height="8.4" rx="2.4" fill="#ffffff" transform="rotate(110 1773.3 1622.6)"/>
<rect x="1840.4" y="1643.7" width="8.0" height="5.8" rx="2.4" fill="#ffffff" transform="rotate(105 1844.4 1646.6)"/>
<rect x="1841.4" y="1624.8" width="10.2" height="6.4" rx="2.4" fill="#f7efe2" transform="rotate(25 1846.5 1628.0)"/>
<rect x="1853.2" y="1651.2" width="9.9" height="7.3" rx="2.4" fill="#f6a62a" transform="rotate(45 1858.1 1654.9)"/>
<rect x="1836.9" y="1675.1" width="9.0" height="8.0" rx="2.4" fill="#f9b732" transform="rotate(20 1841.4 1679.1)"/>
<rect x="1830.3" y="1613.1" width="8.2" height="5.8" rx="2.4" fill="#fdf9f2" transform="rotate(175 1834.3 1616.0)"/>
<rect x="1816.8" y="1628.2" width="8.0" height="7.4" rx="2.4" fill="#ffffff" transform="rotate(55 1820.8 1631.9)"/>
<rect x="1806.1" y="1605.3" width="7.8" height="6.3" rx="2.4" fill="#f5ecdc" transform="rotate(155 1810.0 1608.4)"/>
<rect x="1801.4" y="1648.2" width="9.2" height="6.5" rx="2.4" fill="#f5ecdc" transform="rotate(175 1806.0 1651.5)"/>
<rect x="1813.2" y="1668.1" width="8.4" height="7.7" rx="2.4" fill="#f4a020" transform="rotate(75 1817.4 1671.9)"/>
<rect x="1821.8" y="1605.7" width="7.6" height="7.0" rx="2.4" fill="#fdf9f2" transform="rotate(50 1825.6 1609.2)"/>
<rect x="1787.9" y="1589.8" width="9.2" height="7.2" rx="2.4" fill="#ffffff" transform="rotate(90 1792.5 1593.4)"/>
<rect x="1835.6" y="1666.5" width="10.0" height="7.4" rx="2.4" fill="#fdf9f2" transform="rotate(165 1840.6 1670.2)"/>
<rect x="1807.0" y="1656.4" width="10.0" height="6.9" rx="2.4" fill="#ffffff" transform="rotate(50 1812.0 1659.9)"/>
<rect x="1859.7" y="1613.9" width="8.7" height="5.9" rx="2.4" fill="#f5ecdc" transform="rotate(175 1864.0 1616.8)"/>
<rect x="1845.0" y="1631.7" width="8.6" height="8.4" rx="2.4" fill="#f7efe2" transform="rotate(160 1849.2 1636.0)"/>
<rect x="1836.6" y="1601.0" width="9.4" height="6.7" rx="2.4" fill="#ffd45a" transform="rotate(60 1841.3 1604.3)"/>
<rect x="1856.5" y="1603.8" width="7.1" height="7.0" rx="2.4" fill="#f6a62a" transform="rotate(45 1860.0 1607.3)"/>
<rect x="1762.2" y="1639.8" width="10.8" height="7.5" rx="2.4" fill="#f4a020" transform="rotate(25 1767.6 1643.6)"/>
<rect x="1803.7" y="1613.9" width="10.2" height="6.6" rx="2.4" fill="#f7efe2" transform="rotate(140 1808.8 1617.2)"/>
<rect x="1794.7" y="1669.2" width="9.2" height="7.2" rx="2.4" fill="#f9b732" transform="rotate(160 1799.3 1672.8)"/>
<rect x="1869.4" y="1661.7" width="8.5" height="7.5" rx="2.4" fill="#f6a62a" transform="rotate(155 1873.6 1665.5)"/>
<rect x="1791.7" y="1625.8" width="8.9" height="7.1" rx="2.4" fill="#f4a020" transform="rotate(0 1796.1 1629.4)"/>
<rect x="1788.2" y="1646.6" width="10.2" height="5.6" rx="2.4" fill="#f4a020" transform="rotate(170 1793.2 1649.4)"/>
<rect x="1784.6" y="1629.0" width="7.6" height="5.9" rx="2.4" fill="#f4a020" transform="rotate(50 1788.4 1631.9)"/>
<rect x="1845.6" y="1649.4" width="9.5" height="8.3" rx="2.4" fill="#f9b732" transform="rotate(110 1850.4 1653.5)"/>
<rect x="1859.4" y="1636.3" width="7.9" height="6.3" rx="2.4" fill="#ffd45a" transform="rotate(70 1863.3 1639.4)"/>
<rect x="1811.2" y="1618.0" width="9.2" height="7.7" rx="2.4" fill="#f5ecdc" transform="rotate(125 1815.8 1621.8)"/>
<rect x="1777.5" y="1598.1" width="8.8" height="6.8" rx="2.4" fill="#fbf6ee" transform="rotate(85 1781.9 1601.5)"/>
<rect x="1762.6" y="1626.5" width="8.1" height="8.0" rx="2.4" fill="#ffffff" transform="rotate(10 1766.6 1630.5)"/>
<rect x="1857.1" y="1664.6" width="9.0" height="6.6" rx="2.4" fill="#f9b732" transform="rotate(10 1861.6 1667.9)"/>
<rect x="1769.5" y="1653.3" width="9.0" height="6.9" rx="2.4" fill="#ffd45a" transform="rotate(45 1774.0 1656.7)"/>
<rect x="1872.0" y="1644.7" width="9.5" height="6.2" rx="2.4" fill="#fbf6ee" transform="rotate(20 1876.7 1647.8)"/>
<rect x="1832.5" y="1644.0" width="7.9" height="6.5" rx="2.4" fill="#ffffff" transform="rotate(65 1836.5 1647.3)"/>
<rect x="1825.1" y="1626.8" width="9.2" height="5.7" rx="2.4" fill="#f5ecdc" transform="rotate(70 1829.7 1629.6)"/>
<rect x="1829.5" y="1676.5" width="8.7" height="5.8" rx="2.4" fill="#fcc93f" transform="rotate(35 1833.8 1679.4)"/>
<rect x="1798.2" y="1641.7" width="8.3" height="5.6" rx="2.4" fill="#f6a62a" transform="rotate(170 1802.4 1644.5)"/>
<rect x="1793.2" y="1594.7" width="10.4" height="8.2" rx="2.4" fill="#fcc93f" transform="rotate(35 1798.5 1598.8)"/>
<rect x="1776.2" y="1617.4" width="9.6" height="7.6" rx="2.4" fill="#fcc93f" transform="rotate(5 1781.0 1621.2)"/>
<rect x="1798.8" y="1628.8" width="9.3" height="8.4" rx="2.4" fill="#fcc93f" transform="rotate(20 1803.4 1633.0)"/>
<rect x="1858.0" y="1620.7" width="7.6" height="8.4" rx="2.4" fill="#f6a62a" transform="rotate(160 1861.8 1624.9)"/>
<rect x="1812.2" y="1601.6" width="8.9" height="6.2" rx="2.4" fill="#ffd45a" transform="rotate(5 1816.6 1604.6)"/>
<rect x="1763.4" y="1612.4" width="10.0" height="8.4" rx="2.4" fill="#f4a020" transform="rotate(70 1768.3 1616.6)"/>
<rect x="1811.9" y="1640.9" width="9.3" height="8.2" rx="2.4" fill="#ffd45a" transform="rotate(175 1816.6 1645.0)"/>
<rect x="1780.8" y="1647.8" width="8.4" height="6.0" rx="2.4" fill="#f7efe2" transform="rotate(30 1785.0 1650.8)"/>
</g>
</g>
<g filter="url(#tb)">
<path d="M242.8,2084.9 V1573.4 H948.7 V2084.9" fill="none" stroke="#000" stroke-width="2.8" stroke-linejoin="miter"/>
<line x1="231" y1="2083.5" x2="950.1" y2="2083.5" stroke="#000" stroke-width="2.8"/>
<path d="M948.7,1572.8 H2359.6 V2084.6 H948.7" fill="none" stroke="#1c1c1c" stroke-width="1.8"/>
<line x1="1655.2" y1="1572.8" x2="1655.2" y2="2084.6" stroke="#1c1c1c" stroke-width="1.8"/>
<line x1="231" y1="1592.6" x2="242.8" y2="1592.6" stroke="#000" stroke-width="2.7"/>
<text x="213.6" y="1603.3" font-size="31" letter-spacing="-0.7" text-anchor="end">150</text>
<line x1="231" y1="1630.4" x2="242.8" y2="1630.4" stroke="#000" stroke-width="2.7"/>
<text x="213.6" y="1641.1" font-size="31" letter-spacing="-0.7" text-anchor="end">140</text>
<line x1="231" y1="1668.1" x2="242.8" y2="1668.1" stroke="#000" stroke-width="2.7"/>
<text x="213.6" y="1678.8" font-size="31" letter-spacing="-0.7" text-anchor="end">130</text>
<line x1="231" y1="1705.9" x2="242.8" y2="1705.9" stroke="#000" stroke-width="2.7"/>
<text x="213.6" y="1716.6" font-size="31" letter-spacing="-0.7" text-anchor="end">120</text>
<line x1="231" y1="1743.7" x2="242.8" y2="1743.7" stroke="#000" stroke-width="2.7"/>
<text x="213.6" y="1754.4" font-size="31" letter-spacing="-0.7" text-anchor="end">110</text>
<line x1="231" y1="1781.4" x2="242.8" y2="1781.4" stroke="#000" stroke-width="2.7"/>
<text x="213.6" y="1792.1" font-size="31" letter-spacing="-0.7" text-anchor="end">100</text>
<line x1="231" y1="1819.2" x2="242.8" y2="1819.2" stroke="#000" stroke-width="2.7"/>
<text x="213.6" y="1829.9" font-size="31" letter-spacing="-0.7" text-anchor="end">90</text>
<line x1="231" y1="1856.9" x2="242.8" y2="1856.9" stroke="#000" stroke-width="2.7"/>
<text x="213.6" y="1867.6" font-size="31" letter-spacing="-0.7" text-anchor="end">80</text>
<line x1="231" y1="1894.7" x2="242.8" y2="1894.7" stroke="#000" stroke-width="2.7"/>
<text x="213.6" y="1905.4" font-size="31" letter-spacing="-0.7" text-anchor="end">70</text>
<line x1="231" y1="1932.5" x2="242.8" y2="1932.5" stroke="#000" stroke-width="2.7"/>
<text x="213.6" y="1943.2" font-size="31" letter-spacing="-0.7" text-anchor="end">60</text>
<line x1="231" y1="1970.2" x2="242.8" y2="1970.2" stroke="#000" stroke-width="2.7"/>
<text x="213.6" y="1980.9" font-size="31" letter-spacing="-0.7" text-anchor="end">50</text>
<line x1="231" y1="2008.0" x2="242.8" y2="2008.0" stroke="#000" stroke-width="2.7"/>
<text x="213.6" y="2018.7" font-size="31" letter-spacing="-0.7" text-anchor="end">40</text>
<line x1="231" y1="2045.7" x2="242.8" y2="2045.7" stroke="#000" stroke-width="2.7"/>
<text x="213.6" y="2056.4" font-size="31" letter-spacing="-0.7" text-anchor="end">30</text>
<text x="213.6" y="2094.2" font-size="31" letter-spacing="-0.7" text-anchor="end">20</text>
<text transform="translate(148.3 2015.6) rotate(-90)" font-size="30.6" textLength="361" lengthAdjust="spacing">Produtividade (sacas ha<tspan dy="-15.5" font-size="18.5">-1</tspan><tspan dy="15.5" font-size="30.6">)</tspan></text>
<rect x="302.4" y="1608.7" width="52.0" height="474.8" fill="#f3f6b1" stroke="#000" stroke-width="2.8"/>
<text x="325.9" y="1607.8" font-size="31" letter-spacing="-0.7" text-anchor="middle">146</text>
<text x="327.9" y="1682.0" font-size="34.5" text-anchor="middle">a</text>
<line x1="328.2" y1="2083.5" x2="328.2" y2="2096.4" stroke="#000" stroke-width="2.6"/>
<text x="328.2" y="2137.7" font-size="31" text-anchor="middle">1</text>
<rect x="409.2" y="1783.2" width="52.0" height="300.3" fill="#f3f6b1" stroke="#000" stroke-width="2.8"/>
<text x="432.7" y="1778.6" font-size="31" letter-spacing="-0.7" text-anchor="middle">99</text>
<text x="434.7" y="1844.8" font-size="34.5" text-anchor="middle">b</text>
<line x1="434.9" y1="2083.5" x2="434.9" y2="2096.4" stroke="#000" stroke-width="2.6"/>
<text x="434.9" y="2137.7" font-size="31" text-anchor="middle">2</text>
<rect x="516.0" y="1715.4" width="52.0" height="368.1" fill="#f3f6b1" stroke="#000" stroke-width="2.8"/>
<text x="539.5" y="1713.5" font-size="31" letter-spacing="-0.7" text-anchor="middle">117</text>
<text x="541.5" y="1773.2" font-size="34.5" text-anchor="middle">ab</text>
<line x1="541.6" y1="2083.5" x2="541.6" y2="2096.4" stroke="#000" stroke-width="2.6"/>
<text x="541.6" y="2137.7" font-size="31" text-anchor="middle">3</text>
<rect x="622.8" y="1689.3" width="52.0" height="394.2" fill="#f3f6b1" stroke="#000" stroke-width="2.8"/>
<text x="646.3" y="1689.1" font-size="31" letter-spacing="-0.7" text-anchor="middle">124</text>
<text x="648.3" y="1766.7" font-size="34.5" text-anchor="middle">ab</text>
<line x1="648.3" y1="2083.5" x2="648.3" y2="2096.4" stroke="#000" stroke-width="2.6"/>
<text x="648.3" y="2137.7" font-size="31" text-anchor="middle">4</text>
<rect x="729.6" y="1699.4" width="52.0" height="384.1" fill="#f3f6b1" stroke="#000" stroke-width="2.8"/>
<text x="753.1" y="1697.3" font-size="31" letter-spacing="-0.7" text-anchor="middle">122</text>
<text x="755.1" y="1766.7" font-size="34.5" text-anchor="middle">ab</text>
<line x1="755.0" y1="2083.5" x2="755.0" y2="2096.4" stroke="#000" stroke-width="2.6"/>
<text x="755.0" y="2137.7" font-size="31" text-anchor="middle">5</text>
<rect x="836.4" y="1658.8" width="52.0" height="424.7" fill="#f3f6b1" stroke="#000" stroke-width="2.8"/>
<text x="859.9" y="1656.6" font-size="31" letter-spacing="-0.7" text-anchor="middle">133</text>
<text x="861.9" y="1765.0" font-size="34.5" text-anchor="middle">ab</text>
<line x1="861.7" y1="2083.5" x2="861.7" y2="2096.4" stroke="#000" stroke-width="2.6"/>
<text x="861.7" y="2137.7" font-size="31" text-anchor="middle">6</text>
<rect x="1007.6" y="1869.2" width="53.3" height="215.4" fill="#c0c0c0" stroke="#1c1c1c" stroke-width="2"/>
<text x="1033.2" y="1864.7" font-size="31" letter-spacing="-0.7" text-anchor="middle">77</text>
<line x1="1034.8" y1="2084.6" x2="1034.8" y2="2091.5" stroke="#1c1c1c" stroke-width="1.9"/>
<text x="1034.8" y="2135.3" font-size="31" text-anchor="middle">1</text>
<rect x="1114.4" y="1883.7" width="53.3" height="200.9" fill="#c0c0c0" stroke="#1c1c1c" stroke-width="2"/>
<text x="1140.1" y="1879.2" font-size="31" letter-spacing="-0.7" text-anchor="middle">73</text>
<line x1="1141.5" y1="2084.6" x2="1141.5" y2="2091.5" stroke="#1c1c1c" stroke-width="1.9"/>
<text x="1141.5" y="2135.3" font-size="31" text-anchor="middle">2</text>
<rect x="1221.2" y="1835.0" width="53.3" height="249.6" fill="#c0c0c0" stroke="#1c1c1c" stroke-width="2"/>
<text x="1246.9" y="1830.5" font-size="31" letter-spacing="-0.7" text-anchor="middle">86</text>
<line x1="1248.3" y1="2084.6" x2="1248.3" y2="2091.5" stroke="#1c1c1c" stroke-width="1.9"/>
<text x="1248.3" y="2135.3" font-size="31" text-anchor="middle">3</text>
<rect x="1328.1" y="1874.8" width="53.3" height="209.8" fill="#c0c0c0" stroke="#1c1c1c" stroke-width="2"/>
<text x="1353.7" y="1870.3" font-size="31" letter-spacing="-0.7" text-anchor="middle">76</text>
<line x1="1355.0" y1="2084.6" x2="1355.0" y2="2091.5" stroke="#1c1c1c" stroke-width="1.9"/>
<text x="1355.0" y="2135.3" font-size="31" text-anchor="middle">4</text>
<rect x="1434.9" y="1857.5" width="53.3" height="227.1" fill="#c0c0c0" stroke="#1c1c1c" stroke-width="2"/>
<text x="1460.5" y="1853.0" font-size="31" letter-spacing="-0.7" text-anchor="middle">80</text>
<line x1="1461.8" y1="2084.6" x2="1461.8" y2="2091.5" stroke="#1c1c1c" stroke-width="1.9"/>
<text x="1461.8" y="2135.3" font-size="31" text-anchor="middle">5</text>
<rect x="1541.7" y="1861.2" width="53.3" height="223.4" fill="#c0c0c0" stroke="#1c1c1c" stroke-width="2"/>
<text x="1567.3" y="1856.7" font-size="31" letter-spacing="-0.7" text-anchor="middle">79</text>
<line x1="1568.5" y1="2084.6" x2="1568.5" y2="2091.5" stroke="#1c1c1c" stroke-width="1.9"/>
<text x="1568.5" y="2135.3" font-size="31" text-anchor="middle">6</text>
<rect x="1713.1" y="1695.9" width="52.3" height="388.7" fill="#f8f8a2" stroke="#1c1c1c" stroke-width="1.8"/>
<text x="1738.2" y="1693.1" font-size="31" letter-spacing="-0.7" text-anchor="middle">122</text>
<line x1="1739.4" y1="2084.6" x2="1739.4" y2="2092.5" stroke="#1c1c1c" stroke-width="1.9"/>
<text x="1739.4" y="2131" font-size="31" text-anchor="middle">1</text>
<rect x="1820.2" y="1706.2" width="52.3" height="378.4" fill="#f8f8a2" stroke="#1c1c1c" stroke-width="1.8"/>
<text x="1845.3" y="1703.4" font-size="31" letter-spacing="-0.7" text-anchor="middle">120</text>
<line x1="1846.2" y1="2084.6" x2="1846.2" y2="2092.5" stroke="#1c1c1c" stroke-width="1.9"/>
<text x="1846.2" y="2131" font-size="31" text-anchor="middle">2</text>
<rect x="1927.3" y="1671.1" width="52.3" height="413.5" fill="#f8f8a2" stroke="#1c1c1c" stroke-width="1.8"/>
<text x="1952.5" y="1668.3" font-size="31" letter-spacing="-0.7" text-anchor="middle">129</text>
<line x1="1952.9" y1="2084.6" x2="1952.9" y2="2092.5" stroke="#1c1c1c" stroke-width="1.9"/>
<text x="1952.9" y="2131" font-size="31" text-anchor="middle">3</text>
<rect x="2034.4" y="1687.5" width="52.3" height="397.1" fill="#f8f8a2" stroke="#1c1c1c" stroke-width="1.8"/>
<text x="2059.6" y="1684.7" font-size="31" letter-spacing="-0.7" text-anchor="middle">125</text>
<line x1="2059.7" y1="2084.6" x2="2059.7" y2="2092.5" stroke="#1c1c1c" stroke-width="1.9"/>
<text x="2059.7" y="2131" font-size="31" text-anchor="middle">4</text>
<rect x="2141.5" y="1717.9" width="52.3" height="366.7" fill="#f8f8a2" stroke="#1c1c1c" stroke-width="1.8"/>
<text x="2166.7" y="1715.1" font-size="31" letter-spacing="-0.7" text-anchor="middle">117</text>
<line x1="2166.4" y1="2084.6" x2="2166.4" y2="2092.5" stroke="#1c1c1c" stroke-width="1.9"/>
<text x="2166.4" y="2131" font-size="31" text-anchor="middle">5</text>
<rect x="2248.6" y="1722.6" width="52.3" height="362.0" fill="#f8f8a2" stroke="#1c1c1c" stroke-width="1.8"/>
<text x="2273.8" y="1719.8" font-size="31" letter-spacing="-0.7" text-anchor="middle">115</text>
<line x1="2273.2" y1="2084.6" x2="2273.2" y2="2092.5" stroke="#1c1c1c" stroke-width="1.9"/>
<text x="2273.2" y="2131" font-size="31" text-anchor="middle">6</text>
<text x="494.5" y="1602.8" font-size="25.5" font-weight="bold" textLength="203.7" lengthAdjust="spacingAndGlyphs">Milho: 2017/2018</text>
<text x="1207.9" y="1600" font-size="25.5" font-weight="bold" textLength="192" lengthAdjust="spacingAndGlyphs">Soja: 2018/2019</text>
<text x="1912.5" y="1603.2" font-size="25.5" font-weight="bold" textLength="204.2" lengthAdjust="spacingAndGlyphs">Milho: 2019/2020</text>
<rect x="248.2" y="2180.1" width="8.7" height="2.8" fill="#000"/>
<rect x="268.2" y="2180.1" width="8.7" height="2.8" fill="#000"/>
<rect x="288.1" y="2180.1" width="8.7" height="2.8" fill="#000"/>
<rect x="308.1" y="2180.1" width="8.7" height="2.8" fill="#000"/>
<rect x="328.0" y="2180.1" width="8.7" height="2.8" fill="#000"/>
<rect x="348.0" y="2180.1" width="8.7" height="2.8" fill="#000"/>
<rect x="368.0" y="2180.1" width="8.7" height="2.8" fill="#000"/>
<rect x="387.9" y="2180.1" width="8.7" height="2.8" fill="#000"/>
<rect x="407.9" y="2180.1" width="8.7" height="2.8" fill="#000"/>
<rect x="427.8" y="2180.1" width="8.7" height="2.8" fill="#000"/>
<rect x="447.8" y="2180.1" width="8.7" height="2.8" fill="#000"/>
<rect x="467.8" y="2180.1" width="8.7" height="2.8" fill="#000"/>
<rect x="487.7" y="2180.1" width="8.7" height="2.8" fill="#000"/>
<rect x="507.7" y="2180.1" width="8.7" height="2.8" fill="#000"/>
<rect x="527.6" y="2180.1" width="8.7" height="2.8" fill="#000"/>
<rect x="547.6" y="2180.1" width="8.7" height="2.8" fill="#000"/>
<rect x="567.6" y="2180.1" width="8.7" height="2.8" fill="#000"/>
<rect x="587.5" y="2180.1" width="8.7" height="2.8" fill="#000"/>
<rect x="607.5" y="2180.1" width="8.7" height="2.8" fill="#000"/>
<rect x="627.4" y="2180.1" width="8.7" height="2.8" fill="#000"/>
<rect x="647.4" y="2180.1" width="8.7" height="2.8" fill="#000"/>
<rect x="667.4" y="2180.1" width="8.7" height="2.8" fill="#000"/>
<rect x="687.3" y="2180.1" width="8.7" height="2.8" fill="#000"/>
<rect x="707.3" y="2180.1" width="8.7" height="2.8" fill="#000"/>
<rect x="727.2" y="2180.1" width="8.7" height="2.8" fill="#000"/>
<rect x="747.2" y="2180.1" width="8.7" height="2.8" fill="#000"/>
<rect x="767.2" y="2180.1" width="8.7" height="2.8" fill="#000"/>
<rect x="787.1" y="2180.1" width="8.7" height="2.8" fill="#000"/>
<rect x="807.1" y="2180.1" width="8.7" height="2.8" fill="#000"/>
<rect x="827.0" y="2180.1" width="8.7" height="2.8" fill="#000"/>
<rect x="847.0" y="2180.1" width="8.7" height="2.8" fill="#000"/>
<rect x="867.0" y="2180.1" width="8.7" height="2.8" fill="#000"/>
<rect x="886.9" y="2180.1" width="8.7" height="2.8" fill="#000"/>
<rect x="906.9" y="2180.1" width="8.7" height="2.8" fill="#000"/>
<rect x="926.8" y="2180.1" width="8.7" height="2.8" fill="#000"/>
<rect x="946.8" y="2180.1" width="8.7" height="2.8" fill="#000"/>
<rect x="966.8" y="2180.1" width="8.7" height="2.8" fill="#000"/>
<rect x="986.7" y="2180.1" width="8.7" height="2.8" fill="#000"/>
<rect x="1006.7" y="2180.1" width="8.7" height="2.8" fill="#000"/>
<rect x="1026.6" y="2180.1" width="8.7" height="2.8" fill="#000"/>
<rect x="1046.6" y="2180.1" width="8.7" height="2.8" fill="#000"/>
<rect x="1066.6" y="2180.1" width="8.7" height="2.8" fill="#000"/>
<rect x="1086.5" y="2180.1" width="8.7" height="2.8" fill="#000"/>
<rect x="1106.5" y="2180.1" width="8.7" height="2.8" fill="#000"/>
<rect x="1126.4" y="2180.1" width="8.7" height="2.8" fill="#000"/>
<rect x="1146.4" y="2180.1" width="8.7" height="2.8" fill="#000"/>
<rect x="1166.4" y="2180.1" width="8.7" height="2.8" fill="#000"/>
<rect x="1186.3" y="2180.1" width="8.7" height="2.8" fill="#000"/>
<rect x="1382.5" y="2180.1" width="8.7" height="2.8" fill="#000"/>
<rect x="1402.5" y="2180.1" width="8.7" height="2.8" fill="#000"/>
<rect x="1422.4" y="2180.1" width="8.7" height="2.8" fill="#000"/>
<rect x="1442.4" y="2180.1" width="8.7" height="2.8" fill="#000"/>
<rect x="1462.3" y="2180.1" width="8.7" height="2.8" fill="#000"/>
<rect x="1482.3" y="2180.1" width="8.7" height="2.8" fill="#000"/>
<rect x="1502.3" y="2180.1" width="8.7" height="2.8" fill="#000"/>
<rect x="1522.2" y="2180.1" width="8.7" height="2.8" fill="#000"/>
<rect x="1542.2" y="2180.1" width="8.7" height="2.8" fill="#000"/>
<rect x="1562.1" y="2180.1" width="8.7" height="2.8" fill="#000"/>
<rect x="1582.1" y="2180.1" width="8.7" height="2.8" fill="#000"/>
<rect x="1602.1" y="2180.1" width="8.7" height="2.8" fill="#000"/>
<rect x="1622.0" y="2180.1" width="8.7" height="2.8" fill="#000"/>
<rect x="1642.0" y="2180.1" width="8.7" height="2.8" fill="#000"/>
<rect x="1661.9" y="2180.1" width="8.7" height="2.8" fill="#000"/>
<rect x="1681.9" y="2180.1" width="8.7" height="2.8" fill="#000"/>
<rect x="1701.9" y="2180.1" width="8.7" height="2.8" fill="#000"/>
<rect x="1721.8" y="2180.1" width="8.7" height="2.8" fill="#000"/>
<rect x="1741.8" y="2180.1" width="8.7" height="2.8" fill="#000"/>
<rect x="1761.7" y="2180.1" width="8.7" height="2.8" fill="#000"/>
<rect x="1781.7" y="2180.1" width="8.7" height="2.8" fill="#000"/>
<rect x="1801.7" y="2180.1" width="8.7" height="2.8" fill="#000"/>
<rect x="1821.6" y="2180.1" width="8.7" height="2.8" fill="#000"/>
<rect x="1841.6" y="2180.1" width="8.7" height="2.8" fill="#000"/>
<rect x="1861.5" y="2180.1" width="8.7" height="2.8" fill="#000"/>
<rect x="1881.5" y="2180.1" width="8.7" height="2.8" fill="#000"/>
<rect x="1901.5" y="2180.1" width="8.7" height="2.8" fill="#000"/>
<rect x="1921.4" y="2180.1" width="8.7" height="2.8" fill="#000"/>
<rect x="1941.4" y="2180.1" width="8.7" height="2.8" fill="#000"/>
<rect x="1961.3" y="2180.1" width="8.7" height="2.8" fill="#000"/>
<rect x="1981.3" y="2180.1" width="8.7" height="2.8" fill="#000"/>
<rect x="2001.3" y="2180.1" width="8.7" height="2.8" fill="#000"/>
<rect x="2021.2" y="2180.1" width="8.7" height="2.8" fill="#000"/>
<rect x="2041.2" y="2180.1" width="8.7" height="2.8" fill="#000"/>
<rect x="2061.1" y="2180.1" width="8.7" height="2.8" fill="#000"/>
<rect x="2081.1" y="2180.1" width="8.7" height="2.8" fill="#000"/>
<rect x="2101.1" y="2180.1" width="8.7" height="2.8" fill="#000"/>
<rect x="2121.0" y="2180.1" width="8.7" height="2.8" fill="#000"/>
<rect x="2141.0" y="2180.1" width="8.7" height="2.8" fill="#000"/>
<rect x="2160.9" y="2180.1" width="8.7" height="2.8" fill="#000"/>
<rect x="2180.9" y="2180.1" width="8.7" height="2.8" fill="#000"/>
<rect x="2200.9" y="2180.1" width="8.7" height="2.8" fill="#000"/>
<rect x="2220.8" y="2180.1" width="8.7" height="2.8" fill="#000"/>
<rect x="2240.8" y="2180.1" width="8.7" height="2.8" fill="#000"/>
<rect x="2260.7" y="2180.1" width="8.7" height="2.8" fill="#000"/>
<rect x="2280.7" y="2180.1" width="8.7" height="2.8" fill="#000"/>
<rect x="2300.7" y="2180.1" width="8.7" height="2.8" fill="#000"/>
<rect x="2320.6" y="2180.1" width="8.7" height="2.8" fill="#000"/>
<rect x="2340.6" y="2180.1" width="8.7" height="2.8" fill="#000"/>
<text x="1200.3" y="2190" font-size="32.8" textLength="168.5" lengthAdjust="spacingAndGlyphs">Tratamento</text>
</g>
</svg>

<div class="abs" style="left:114.8px;top:2548.5px;width:2241.8px;height:4.3px;background:#000;"></div>
<div class="abs" style="left:114.8px;top:2552.6px;width:2241.8px;height:191.2px;background:#006034;"></div>
<div class="abs" style="left:114.8px;top:2743.6px;width:2241.8px;height:371.3px;background:#ebedea;"></div>
<div class="abs" style="left:114.8px;top:3114.7px;width:2241.8px;height:8.4px;background:#006034;"></div>
<svg class="abs" style="left:0;top:2640px" width="2480" height="30" viewBox="0 2640 2480 30" fill="#fff"><rect x="543.3" y="2652.6" width="10.4" height="3.7"/><rect x="565.6" y="2652.6" width="10.4" height="3.7"/><rect x="587.8" y="2652.6" width="10.4" height="3.7"/><rect x="610.1" y="2652.6" width="10.4" height="3.7"/><rect x="632.4" y="2652.6" width="10.4" height="3.7"/><rect x="654.6" y="2652.6" width="10.4" height="3.7"/><rect x="676.9" y="2652.6" width="10.4" height="3.7"/><rect x="699.2" y="2652.6" width="10.4" height="3.7"/><rect x="721.5" y="2652.6" width="10.4" height="3.7"/><rect x="743.7" y="2652.6" width="10.4" height="3.7"/><rect x="766.0" y="2652.6" width="10.4" height="3.7"/><rect x="788.3" y="2652.6" width="10.4" height="3.7"/><rect x="810.5" y="2652.6" width="10.4" height="3.7"/><rect x="1057.3" y="2652.6" width="10.4" height="3.7"/><rect x="1079.6" y="2652.6" width="10.4" height="3.7"/><rect x="1101.8" y="2652.6" width="10.4" height="3.7"/><rect x="1124.1" y="2652.6" width="10.4" height="3.7"/><rect x="1146.4" y="2652.6" width="10.4" height="3.7"/><rect x="1168.6" y="2652.6" width="10.4" height="3.7"/><rect x="1190.9" y="2652.6" width="10.4" height="3.7"/><rect x="1213.2" y="2652.6" width="10.4" height="3.7"/><rect x="1235.5" y="2652.6" width="10.4" height="3.7"/><rect x="1257.7" y="2652.6" width="10.4" height="3.7"/><rect x="1280.0" y="2652.6" width="10.4" height="3.7"/><rect x="1302.3" y="2652.6" width="10.4" height="3.7"/><rect x="1324.5" y="2652.6" width="10.4" height="3.7"/><rect x="1487.7" y="2652.6" width="10.4" height="3.7"/><rect x="1510.0" y="2652.6" width="10.4" height="3.7"/><rect x="1532.2" y="2652.6" width="10.4" height="3.7"/><rect x="1554.5" y="2652.6" width="10.4" height="3.7"/><rect x="1576.8" y="2652.6" width="10.4" height="3.7"/><rect x="1599.0" y="2652.6" width="10.4" height="3.7"/><rect x="1621.3" y="2652.6" width="10.4" height="3.7"/><rect x="1643.6" y="2652.6" width="10.4" height="3.7"/><rect x="1665.9" y="2652.6" width="10.4" height="3.7"/><rect x="1688.1" y="2652.6" width="10.4" height="3.7"/><rect x="1710.4" y="2652.6" width="10.4" height="3.7"/><rect x="1732.7" y="2652.6" width="10.4" height="3.7"/><rect x="1754.9" y="2652.6" width="10.4" height="3.7"/><rect x="2010.1" y="2652.6" width="10.4" height="3.7"/><rect x="2032.4" y="2652.6" width="10.4" height="3.7"/><rect x="2054.6" y="2652.6" width="10.4" height="3.7"/><rect x="2076.9" y="2652.6" width="10.4" height="3.7"/><rect x="2099.2" y="2652.6" width="10.4" height="3.7"/><rect x="2121.4" y="2652.6" width="10.4" height="3.7"/><rect x="2143.7" y="2652.6" width="10.4" height="3.7"/><rect x="2166.0" y="2652.6" width="10.4" height="3.7"/><rect x="2188.3" y="2652.6" width="10.4" height="3.7"/><rect x="2210.5" y="2652.6" width="10.4" height="3.7"/><rect x="2232.8" y="2652.6" width="10.4" height="3.7"/><rect x="2255.1" y="2652.6" width="10.4" height="3.7"/><rect x="2277.3" y="2652.6" width="10.4" height="3.7"/></svg>
<div class="ln" style="left:118.7px;top:2227.61px;font-size:39.5px;line-height:51.4px;font-weight:bold;letter-spacing:-1.600px;">Figura 9.</div>
<div class="ln j" style="left:268.8px;top:2227.61px;font-size:39.5px;line-height:51.4px;width:2092.6px;word-spacing:-3.0px;letter-spacing:-0.451px;">Produtividade de milho nas safras 2017/2018 e 2019/2020, e de soja na safra 2018/2019, em função dos tratamentos – méto-</div>
<div class="ln" style="left:268.8px;top:2281.91px;font-size:39.5px;line-height:51.4px;letter-spacing:-1.152px;">dos de recomendação de gesso.</div>
<div class="ln" style="left:118.7px;top:2335.91px;font-size:39.5px;line-height:51.4px;font-weight:bold;letter-spacing:-1.600px;">Fonte:</div>
<div class="ln" style="left:237.3px;top:2335.91px;font-size:39.5px;line-height:51.4px;letter-spacing:-1.036px;">Adaptada de Souza et al. (2025) .</div>
<div class="ln" style="left:113.1px;top:2429.81px;font-size:39.5px;line-height:51.4px;font-weight:bold;letter-spacing:-1.143px;">Tabela 6.</div>
<div class="ln j" style="left:277.6px;top:2429.81px;font-size:39.5px;line-height:51.4px;width:2078.8px;word-spacing:-3.0px;letter-spacing:0.000px;">Diâmetro médio ponderado (DMP) e porcentagem de agregados maiores do que 2 mm (AG &gt; 2) nas camadas 0 a 5 cm,</div>
<div class="ln" style="left:277.6px;top:2479.71px;font-size:39.5px;line-height:51.4px;letter-spacing:-0.875px;">5 a 20 cm e 20 a 40 cm em função da recomendação de gesso por diferentes metodologias.</div>
<div class="ln" style="left:633.7px;top:2569.01px;font-size:36.6px;line-height:47.6px;font-weight:bold;color:#fff;letter-spacing:0.363px;">Diâmetro médio ponderado (mm)</div>
<div class="ln" style="left:1685.2px;top:2569.01px;font-size:36.6px;line-height:47.6px;font-weight:bold;color:#fff;letter-spacing:-0.353px;">Agregados &gt; 2 mm (%)</div>
<div class="ln" style="left:180.6px;top:2628.81px;font-size:36.6px;line-height:47.6px;font-weight:bold;color:#fff;letter-spacing:0.660px;">Tratamento</div>
<div class="ln" style="left:819.4px;top:2628.51px;font-size:36.6px;line-height:47.6px;font-weight:bold;color:#fff;letter-spacing:-0.048px;">Camada (cm)</div>
<div class="ln" style="left:1772.8px;top:2628.51px;font-size:36.6px;line-height:47.6px;font-weight:bold;color:#fff;letter-spacing:-0.103px;">Camada (cm)</div>
<div class="ln" style="left:565.5px;top:2682.81px;font-size:36.6px;line-height:47.6px;font-weight:bold;color:#fff;letter-spacing:0.823px;">0 a 5</div>
<div class="ln" style="left:873.8px;top:2682.81px;font-size:36.6px;line-height:47.6px;font-weight:bold;color:#fff;letter-spacing:0.629px;">5 a 20</div>
<div class="ln" style="left:1181.0px;top:2682.81px;font-size:36.6px;line-height:47.6px;font-weight:bold;color:#fff;letter-spacing:0.647px;">20 a 40</div>
<div class="ln" style="left:1518.8px;top:2682.81px;font-size:36.6px;line-height:47.6px;font-weight:bold;color:#fff;letter-spacing:0.943px;">0 a 5</div>
<div class="ln" style="left:1827.7px;top:2682.81px;font-size:36.6px;line-height:47.6px;font-weight:bold;color:#fff;letter-spacing:0.729px;">5 a 20</div>
<div class="ln" style="left:2134.3px;top:2682.81px;font-size:36.6px;line-height:47.6px;font-weight:bold;color:#fff;letter-spacing:0.804px;">20 a 40</div>
<div class="ln" style="left:259.6px;top:2753.21px;font-size:38.2px;line-height:49.7px;letter-spacing:-0.502px;">T1</div>
<div class="ln" style="left:559.1px;top:2753.21px;font-size:38.2px;line-height:49.7px;letter-spacing:-0.092px;">5,02 ab</div>
<div class="ln" style="left:872.6px;top:2753.21px;font-size:38.2px;line-height:49.7px;letter-spacing:0.001px;">4,83 a</div>
<div class="ln" style="left:1190.3px;top:2753.21px;font-size:38.2px;line-height:49.7px;letter-spacing:0.201px;">4,53 b</div>
<div class="ln" style="left:1497.5px;top:2753.21px;font-size:38.2px;line-height:49.7px;letter-spacing:0.040px;">33,21 ab</div>
<div class="ln" style="left:1841.5px;top:2753.21px;font-size:38.2px;line-height:49.7px;letter-spacing:0.637px;">7,07</div>
<div class="ln" style="left:2135.4px;top:2753.21px;font-size:38.2px;line-height:49.7px;letter-spacing:-0.335px;">10,54 a</div>
<div class="ln" style="left:259.6px;top:2812.91px;font-size:38.2px;line-height:49.7px;letter-spacing:-0.502px;">T2</div>
<div class="ln" style="left:559.6px;top:2812.91px;font-size:38.2px;line-height:49.7px;letter-spacing:-0.013px;">4,48 bc</div>
<div class="ln" style="left:870.9px;top:2812.91px;font-size:38.2px;line-height:49.7px;letter-spacing:0.150px;">4,71 ab</div>
<div class="ln" style="left:1190.3px;top:2812.91px;font-size:38.2px;line-height:49.7px;letter-spacing:0.201px;">4,51 b</div>
<div class="ln" style="left:1499.2px;top:2812.91px;font-size:38.2px;line-height:49.7px;letter-spacing:-0.043px;">20,08 bc</div>
<div class="ln" style="left:1841.5px;top:2812.91px;font-size:38.2px;line-height:49.7px;letter-spacing:0.637px;">5,68</div>
<div class="ln" style="left:2158.7px;top:2812.91px;font-size:38.2px;line-height:49.7px;letter-spacing:0.301px;">1,41 b</div>
<div class="ln" style="left:259.6px;top:2877.21px;font-size:38.2px;line-height:49.7px;letter-spacing:-0.502px;">T3</div>
<div class="ln" style="left:556.9px;top:2877.21px;font-size:38.2px;line-height:49.7px;letter-spacing:-0.193px;">4,23 c</div>
<div class="ln" style="left:870.9px;top:2877.21px;font-size:38.2px;line-height:49.7px;letter-spacing:0.150px;">4,65 ab</div>
<div class="ln" style="left:1189.2px;top:2877.21px;font-size:38.2px;line-height:49.7px;letter-spacing:0.065px;">4,67 ab</div>
<div class="ln" style="left:1500.3px;top:2877.21px;font-size:38.2px;line-height:49.7px;letter-spacing:-0.184px;">29,99 c</div>
<div class="ln" style="left:1841.5px;top:2877.21px;font-size:38.2px;line-height:49.7px;letter-spacing:0.637px;">4,81</div>
<div class="ln" style="left:2157.6px;top:2877.21px;font-size:38.2px;line-height:49.7px;letter-spacing:0.484px;">2,27 b</div>
<div class="ln" style="left:259.6px;top:2937.51px;font-size:38.2px;line-height:49.7px;letter-spacing:-0.502px;">T4</div>
<div class="ln" style="left:556.3px;top:2937.51px;font-size:38.2px;line-height:49.7px;letter-spacing:-0.449px;">5,32 a</div>
<div class="ln" style="left:870.9px;top:2937.51px;font-size:38.2px;line-height:49.7px;letter-spacing:0.150px;">4,74 ab</div>
<div class="ln" style="left:1190.3px;top:2937.51px;font-size:38.2px;line-height:49.7px;letter-spacing:0.201px;">4,47 b</div>
<div class="ln" style="left:1499.2px;top:2937.51px;font-size:38.2px;line-height:49.7px;letter-spacing:-0.335px;">28,85 a</div>
<div class="ln" style="left:1841.5px;top:2937.51px;font-size:38.2px;line-height:49.7px;letter-spacing:0.637px;">5,08</div>
<div class="ln" style="left:2156.5px;top:2937.51px;font-size:38.2px;line-height:49.7px;letter-spacing:0.222px;">4,65 ab</div>
<div class="ln" style="left:259.6px;top:2997.31px;font-size:38.2px;line-height:49.7px;letter-spacing:-0.502px;">T5</div>
<div class="ln" style="left:549.7px;top:2997.31px;font-size:38.2px;line-height:49.7px;letter-spacing:-0.193px;">4,80 abc</div>
<div class="ln" style="left:870.9px;top:2997.31px;font-size:38.2px;line-height:49.7px;letter-spacing:0.150px;">4,63 ab</div>
<div class="ln" style="left:1190.3px;top:2997.31px;font-size:38.2px;line-height:49.7px;letter-spacing:-0.083px;">4,98 a</div>
<div class="ln" style="left:1498.1px;top:2997.31px;font-size:38.2px;line-height:49.7px;letter-spacing:-0.119px;">27,14 abc</div>
<div class="ln" style="left:1841.5px;top:2997.31px;font-size:38.2px;line-height:49.7px;letter-spacing:0.637px;">5,38</div>
<div class="ln" style="left:2157.6px;top:2997.31px;font-size:38.2px;line-height:49.7px;letter-spacing:0.484px;">2,62 b</div>
<div class="ln" style="left:259.6px;top:3056.91px;font-size:38.2px;line-height:49.7px;letter-spacing:-0.502px;">T6</div>
<div class="ln" style="left:545.8px;top:3056.91px;font-size:38.2px;line-height:49.7px;letter-spacing:-0.027px;">4,42 bc</div>
<div class="ln" style="left:872.6px;top:3056.91px;font-size:38.2px;line-height:49.7px;letter-spacing:0.201px;">4,46 b</div>
<div class="ln" style="left:1189.2px;top:3056.91px;font-size:38.2px;line-height:49.7px;letter-spacing:0.065px;">4,62 ab</div>
<div class="ln" style="left:1499.2px;top:3056.91px;font-size:38.2px;line-height:49.7px;letter-spacing:-0.043px;">29,91 bc</div>
<div class="ln" style="left:1841.5px;top:3056.91px;font-size:38.2px;line-height:49.7px;letter-spacing:0.637px;">4,29</div>
<div class="ln" style="left:2156.5px;top:3056.91px;font-size:38.2px;line-height:49.7px;letter-spacing:0.667px;">4,16 b</div>
<div class="ln" style="left:114.9px;top:3139.51px;font-size:39.5px;line-height:51.4px;letter-spacing:-0.667px;">Médias seguidas por letras iguais não diferem entre si pelo teste t de Student (p &lt; 0,05).</div>
<div class="ln" style="left:114.9px;top:3189.71px;font-size:39.5px;line-height:51.4px;font-weight:bold;letter-spacing:-1.600px;">Fonte:</div>
<div class="ln" style="left:232.2px;top:3189.71px;font-size:39.5px;line-height:51.4px;letter-spacing:-0.988px;">Adaptada de Souza et al. (2025).</div>

<div class="abs" style="left:360px;top:3376px;width:1751px;height:200px;background:#006842;border-radius:56px 56px 0 0;"></div>
<div class="ln" style="left:401.8px;top:3415.77px;font-size:41.75px;line-height:54px;font-weight:bold;color:#fff;">INFORMAÇÕES AGRONÔMICAS NUTRIÇÃO DE PLANTAS N</div>
<div class="ln" style="left:1592.6px;top:3409.29px;font-size:28px;line-height:54px;font-weight:bold;color:#fff;">o</div>
<div class="ln" style="left:1632.6px;top:3415.77px;font-size:41.75px;line-height:54px;font-weight:bold;color:#fff;">28 – DEZEMBRO 2025</div>

</div>
</body></html>
